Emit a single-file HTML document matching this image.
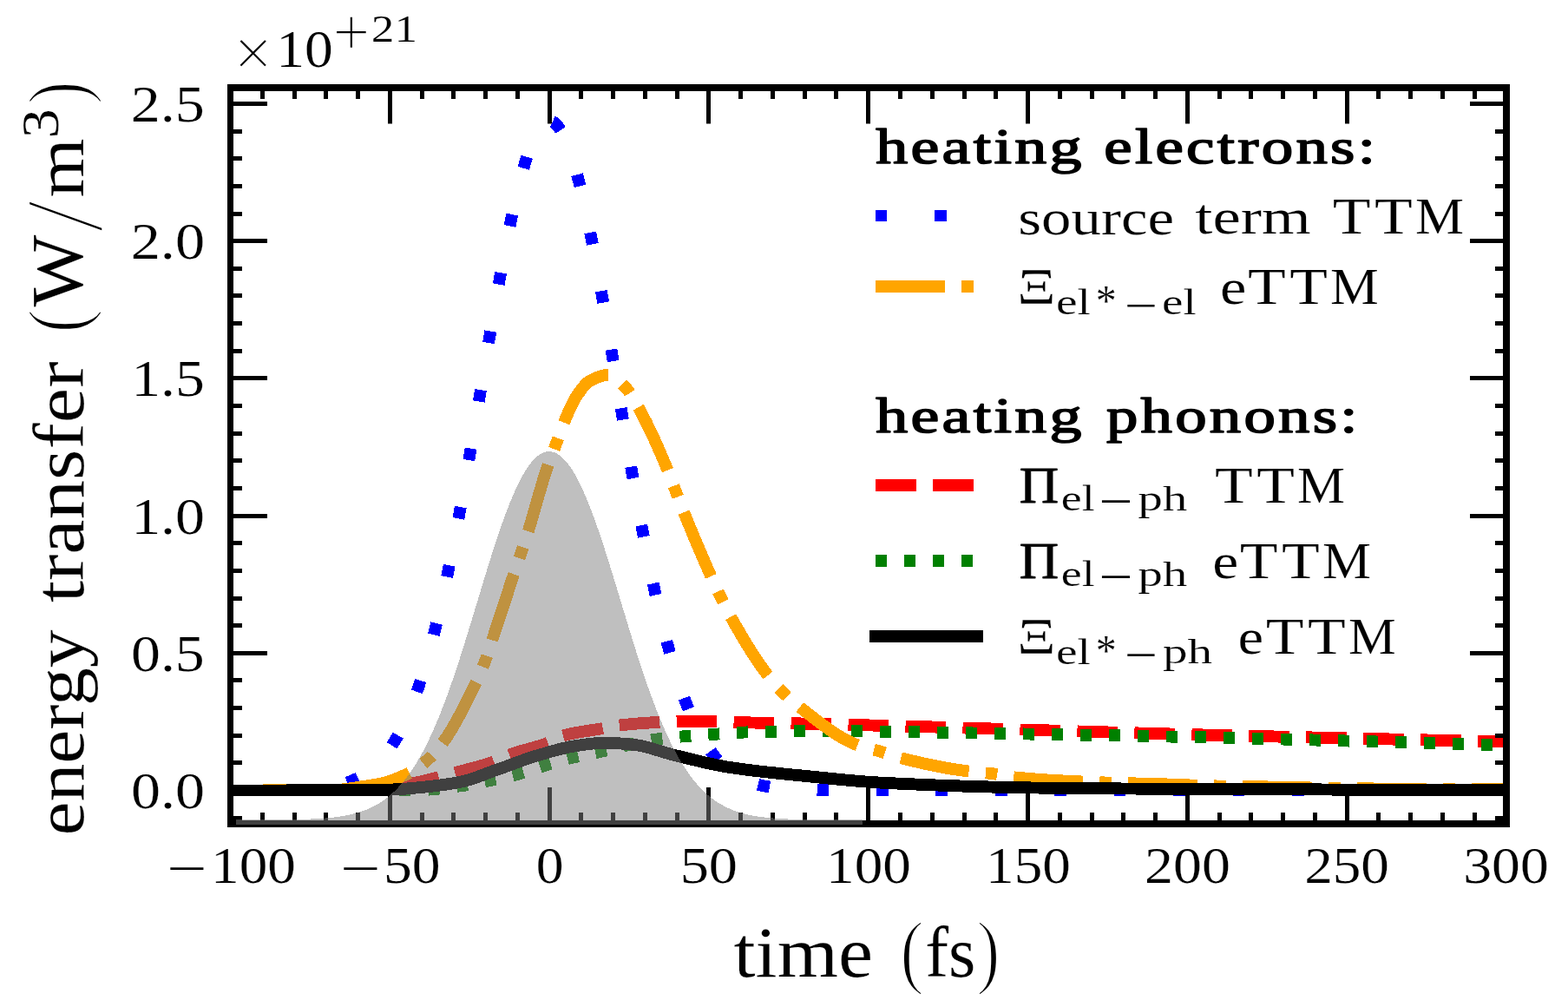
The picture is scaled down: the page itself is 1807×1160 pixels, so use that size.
<!DOCTYPE html>
<html lang="en">
<head>
<meta charset="utf-8">
<title>energy transfer vs time</title>
<style>
html,body{margin:0;padding:0;background:#fff;}
body{width:1807px;height:1160px;overflow:hidden;}
svg{display:block;}
text{font-family:"Liberation Serif","DejaVu Serif",serif;fill:#000;}
.c{fill:none;stroke-width:13.89;stroke-linecap:butt;stroke-linejoin:round;shape-rendering:crispEdges;}
</style>
</head>
<body>
<svg width="1807" height="1160" viewBox="0 0 1807 1160">
<rect width="1807" height="1160" fill="#fff"/>
<defs><clipPath id="ax"><rect x="265.5" y="101" width="1470.5" height="848"/></clipPath><clipPath id="ax2"><rect x="265.5" y="101" width="1470.5" height="849"/></clipPath></defs>
<g clip-path="url(#ax)">
<polyline class="c" stroke="#0000ff" stroke-dasharray="13.6 54.84" stroke-dashoffset="1.6" points="265.50,910.49 267.34,910.49 269.18,910.49 271.02,910.48 272.86,910.48 274.70,910.48 276.54,910.48 278.38,910.47 280.22,910.47 282.06,910.47 283.90,910.47 285.74,910.46 287.59,910.46 289.43,910.45 291.27,910.45 293.11,910.44 294.95,910.44 296.79,910.43 298.63,910.42 300.47,910.41 302.31,910.40 304.15,910.39 305.99,910.38 307.83,910.37 309.67,910.36 311.51,910.34 313.35,910.33 315.19,910.31 317.03,910.29 318.87,910.27 320.71,910.24 322.55,910.22 324.39,910.19 326.23,910.16 328.07,910.13 329.91,910.09 331.76,910.05 333.60,910.01 335.44,909.96 337.28,909.91 339.12,909.86 340.96,909.80 342.80,909.74 344.64,909.67 346.48,909.59 348.32,909.51 350.16,909.42 352.00,909.32 353.84,909.22 355.68,909.11 357.52,908.99 359.36,908.86 361.20,908.71 363.04,908.56 364.88,908.40 366.72,908.22 368.56,908.03 370.40,907.83 372.24,907.61 374.09,907.37 375.93,907.11 377.77,906.84 379.61,906.55 381.45,906.24 383.29,905.90 385.13,905.54 386.97,905.16 388.81,904.75 390.65,904.31 392.49,903.84 394.33,903.34 396.17,902.81 398.01,902.24 399.85,901.63 401.69,900.99 403.53,900.30 405.37,899.57 407.21,898.80 409.05,897.97 410.89,897.10 412.73,896.17 414.57,895.19 416.41,894.15 418.26,893.05 420.10,891.88 421.94,890.65 423.78,889.35 425.62,887.98 427.46,886.53 429.30,885.00 431.14,883.38 432.98,881.69 434.82,879.90 436.66,878.02 438.50,876.04 440.34,873.97 442.18,871.79 444.02,869.50 445.86,867.10 447.70,864.59 449.54,861.96 451.38,859.20 453.22,856.32 455.06,853.31 456.90,850.17 458.74,846.89 460.59,843.47 462.43,839.90 464.27,836.18 466.11,832.32 467.95,828.29 469.79,824.11 471.63,819.77 473.47,815.26 475.31,810.58 477.15,805.73 478.99,800.71 480.83,795.51 482.67,790.13 484.51,784.56 486.35,778.82 488.19,772.89 490.03,766.77 491.87,760.46 493.71,753.96 495.55,747.28 497.39,740.40 499.23,733.33 501.07,726.07 502.91,718.62 504.76,710.98 506.60,703.14 508.44,695.13 510.28,686.92 512.12,678.53 513.96,669.97 515.80,661.22 517.64,652.30 519.48,643.21 521.32,633.95 523.16,624.53 525.00,614.95 526.84,605.23 528.68,595.36 530.52,585.35 532.36,575.21 534.20,564.94 536.04,554.56 537.88,544.07 539.72,533.48 541.56,522.80 543.40,512.04 545.24,501.21 547.09,490.32 548.93,479.37 550.77,468.39 552.61,457.38 554.45,446.36 556.29,435.33 558.13,424.31 559.97,413.31 561.81,402.34 563.65,391.42 565.49,380.56 567.33,369.78 569.17,359.08 571.01,348.48 572.85,338.00 574.69,327.65 576.53,317.44 578.37,307.38 580.21,297.50 582.05,287.80 583.89,278.29 585.73,269.00 587.57,259.94 589.41,251.11 591.26,242.54 593.10,234.23 594.94,226.20 596.78,218.45 598.62,211.01 600.46,203.88 602.30,197.08 604.14,190.61 605.98,184.48 607.82,178.71 609.66,173.31 611.50,168.27 613.34,163.62 615.18,159.36 617.02,155.49 618.86,152.03 620.70,148.97 622.54,146.32 624.38,144.09 626.22,142.29 628.06,140.90 629.90,139.95 631.74,139.42 633.59,139.31 635.43,139.64 637.27,140.40 639.11,141.58 640.95,143.19 642.79,145.22 644.63,147.67 646.47,150.53 648.31,153.80 650.15,157.48 651.99,161.56 653.83,166.03 655.67,170.88 657.51,176.11 659.35,181.71 661.19,187.67 663.03,193.98 664.87,200.62 666.71,207.60 668.55,214.89 670.39,222.50 672.23,230.39 674.07,238.57 675.91,247.03 677.76,255.73 679.60,264.69 681.44,273.87 683.28,283.28 685.12,292.89 686.96,302.68 688.80,312.66 690.64,322.80 692.48,333.09 694.32,343.51 696.16,354.06 698.00,364.71 699.84,375.45 701.68,386.28 703.52,397.17 705.36,408.12 707.20,419.10 709.04,430.12 710.88,441.14 712.72,452.17 714.56,463.19 716.40,474.19 718.24,485.15 720.09,496.07 721.93,506.93 723.77,517.72 725.61,528.44 727.45,539.07 729.29,549.61 731.13,560.05 732.97,570.37 734.81,580.57 736.65,590.64 738.49,600.58 740.33,610.37 742.17,620.02 744.01,629.52 745.85,638.85 747.69,648.02 749.53,657.02 751.37,665.85 753.21,674.51 755.05,682.98 756.89,691.27 758.73,699.38 760.57,707.30 762.41,715.03 764.26,722.57 766.10,729.92 767.94,737.08 769.78,744.05 771.62,750.83 773.46,757.41 775.30,763.81 777.14,770.02 778.98,776.04 780.82,781.87 782.66,787.52 784.50,792.98 786.34,798.27 788.18,803.38 790.02,808.31 791.86,813.07 793.70,817.66 795.54,822.08 797.38,826.34 799.22,830.43 801.06,834.37 802.90,838.16 804.74,841.80 806.59,845.29 808.43,848.63 810.27,851.84 812.11,854.91 813.95,857.86 815.79,860.67 817.63,863.36 819.47,865.93 821.31,868.38 823.15,870.72 824.99,872.95 826.83,875.07 828.67,877.10 830.51,879.02 832.35,880.85 834.19,882.59 836.03,884.24 837.87,885.81 839.71,887.30 841.55,888.71 843.39,890.05 845.23,891.31 847.07,892.51 848.91,893.64 850.76,894.71 852.60,895.72 854.44,896.67 856.28,897.57 858.12,898.41 859.96,899.21 861.80,899.96 863.64,900.67 865.48,901.33 867.32,901.96 869.16,902.54 871.00,903.09 872.84,903.61 874.68,904.09 876.52,904.54 878.36,904.97 880.20,905.36 882.04,905.73 883.88,906.08 885.72,906.40 887.56,906.71 889.40,906.99 891.24,907.25 893.09,907.50 894.93,907.72 896.77,907.94 898.61,908.13 900.45,908.32 902.29,908.49 904.13,908.64 905.97,908.79 907.81,908.93 909.65,909.05 911.49,909.17 913.33,909.28 915.17,909.38 917.01,909.47 918.85,909.55 920.69,909.63 922.53,909.70 924.37,909.77 926.21,909.83 928.05,909.89 929.89,909.94 931.73,909.99 933.57,910.03 935.41,910.07 937.26,910.11 939.10,910.15 940.94,910.18 942.78,910.21 944.62,910.23 946.46,910.26 948.30,910.28 950.14,910.30 951.98,910.32 953.82,910.33 955.66,910.35 957.50,910.36 959.34,910.38 961.18,910.39 963.02,910.40 964.86,910.41 966.70,910.42 968.54,910.42 970.38,910.43 972.22,910.44 974.06,910.44 975.90,910.45 977.74,910.46 979.59,910.46 981.43,910.46 983.27,910.47 985.11,910.47 986.95,910.47 988.79,910.48 990.63,910.48 992.47,910.48 994.31,910.48 996.15,910.48 997.99,910.49 999.83,910.49 1001.67,910.49 1003.51,910.49 1005.35,910.49 1007.19,910.49 1009.03,910.49 1010.87,910.49 1012.71,910.49 1014.55,910.49 1016.39,910.50 1018.23,910.50 1020.07,910.50 1021.91,910.50 1023.76,910.50 1025.60,910.50 1027.44,910.50 1029.28,910.50 1031.12,910.50 1032.96,910.50 1034.80,910.50 1036.64,910.50 1038.48,910.50 1040.32,910.50 1042.16,910.50 1044.00,910.50 1045.84,910.50 1047.68,910.50 1049.52,910.50 1051.36,910.50 1053.20,910.50 1055.04,910.50 1056.88,910.50 1058.72,910.50 1060.56,910.50 1062.40,910.50 1064.24,910.50 1066.09,910.50 1067.93,910.50 1069.77,910.50 1071.61,910.50 1073.45,910.50 1075.29,910.50 1077.13,910.50 1078.97,910.50 1080.81,910.50 1082.65,910.50 1084.49,910.50 1086.33,910.50 1088.17,910.50 1090.01,910.50 1091.85,910.50 1093.69,910.50 1095.53,910.50 1097.37,910.50 1099.21,910.50 1101.05,910.50 1102.89,910.50 1104.73,910.50 1106.57,910.50 1108.41,910.50 1110.26,910.50 1112.10,910.50 1113.94,910.50 1115.78,910.50 1117.62,910.50 1119.46,910.50 1121.30,910.50 1123.14,910.50 1124.98,910.50 1126.82,910.50 1128.66,910.50 1130.50,910.50 1132.34,910.50 1134.18,910.50 1136.02,910.50 1137.86,910.50 1139.70,910.50 1141.54,910.50 1143.38,910.50 1145.22,910.50 1147.06,910.50 1148.90,910.50 1150.74,910.50 1152.59,910.50 1154.43,910.50 1156.27,910.50 1158.11,910.50 1159.95,910.50 1161.79,910.50 1163.63,910.50 1165.47,910.50 1167.31,910.50 1169.15,910.50 1170.99,910.50 1172.83,910.50 1174.67,910.50 1176.51,910.50 1178.35,910.50 1180.19,910.50 1182.03,910.50 1183.87,910.50 1185.71,910.50 1187.55,910.50 1189.39,910.50 1191.23,910.50 1193.07,910.50 1194.91,910.50 1196.76,910.50 1198.60,910.50 1200.44,910.50 1202.28,910.50 1204.12,910.50 1205.96,910.50 1207.80,910.50 1209.64,910.50 1211.48,910.50 1213.32,910.50 1215.16,910.50 1217.00,910.50 1218.84,910.50 1220.68,910.50 1222.52,910.50 1224.36,910.50 1226.20,910.50 1228.04,910.50 1229.88,910.50 1231.72,910.50 1233.56,910.50 1235.40,910.50 1237.24,910.50 1239.09,910.50 1240.93,910.50 1242.77,910.50 1244.61,910.50 1246.45,910.50 1248.29,910.50 1250.13,910.50 1251.97,910.50 1253.81,910.50 1255.65,910.50 1257.49,910.50 1259.33,910.50 1261.17,910.50 1263.01,910.50 1264.85,910.50 1266.69,910.50 1268.53,910.50 1270.37,910.50 1272.21,910.50 1274.05,910.50 1275.89,910.50 1277.73,910.50 1279.57,910.50 1281.41,910.50 1283.26,910.50 1285.10,910.50 1286.94,910.50 1288.78,910.50 1290.62,910.50 1292.46,910.50 1294.30,910.50 1296.14,910.50 1297.98,910.50 1299.82,910.50 1301.66,910.50 1303.50,910.50 1305.34,910.50 1307.18,910.50 1309.02,910.50 1310.86,910.50 1312.70,910.50 1314.54,910.50 1316.38,910.50 1318.22,910.50 1320.06,910.50 1321.90,910.50 1323.74,910.50 1325.59,910.50 1327.43,910.50 1329.27,910.50 1331.11,910.50 1332.95,910.50 1334.79,910.50 1336.63,910.50 1338.47,910.50 1340.31,910.50 1342.15,910.50 1343.99,910.50 1345.83,910.50 1347.67,910.50 1349.51,910.50 1351.35,910.50 1353.19,910.50 1355.03,910.50 1356.87,910.50 1358.71,910.50 1360.55,910.50 1362.39,910.50 1364.23,910.50 1366.07,910.50 1367.91,910.50 1369.76,910.50 1371.60,910.50 1373.44,910.50 1375.28,910.50 1377.12,910.50 1378.96,910.50 1380.80,910.50 1382.64,910.50 1384.48,910.50 1386.32,910.50 1388.16,910.50 1390.00,910.50 1391.84,910.50 1393.68,910.50 1395.52,910.50 1397.36,910.50 1399.20,910.50 1401.04,910.50 1402.88,910.50 1404.72,910.50 1406.56,910.50 1408.40,910.50 1410.24,910.50 1412.09,910.50 1413.93,910.50 1415.77,910.50 1417.61,910.50 1419.45,910.50 1421.29,910.50 1423.13,910.50 1424.97,910.50 1426.81,910.50 1428.65,910.50 1430.49,910.50 1432.33,910.50 1434.17,910.50 1436.01,910.50 1437.85,910.50 1439.69,910.50 1441.53,910.50 1443.37,910.50 1445.21,910.50 1447.05,910.50 1448.89,910.50 1450.73,910.50 1452.57,910.50 1454.41,910.50 1456.26,910.50 1458.10,910.50 1459.94,910.50 1461.78,910.50 1463.62,910.50 1465.46,910.50 1467.30,910.50 1469.14,910.50 1470.98,910.50 1472.82,910.50 1474.66,910.50 1476.50,910.50 1478.34,910.50 1480.18,910.50 1482.02,910.50 1483.86,910.50 1485.70,910.50 1487.54,910.50 1489.38,910.50 1491.22,910.50 1493.06,910.50 1494.90,910.50 1496.74,910.50 1498.59,910.50 1500.43,910.50 1502.27,910.50 1504.11,910.50 1505.95,910.50 1507.79,910.50 1509.63,910.50 1511.47,910.50 1513.31,910.50 1515.15,910.50 1516.99,910.50 1518.83,910.50 1520.67,910.50 1522.51,910.50 1524.35,910.50 1526.19,910.50 1528.03,910.50 1529.87,910.50 1531.71,910.50 1533.55,910.50 1535.39,910.50 1537.23,910.50 1539.07,910.50 1540.91,910.50 1542.76,910.50 1544.60,910.50 1546.44,910.50 1548.28,910.50 1550.12,910.50 1551.96,910.50 1553.80,910.50 1555.64,910.50 1557.48,910.50 1559.32,910.50 1561.16,910.50 1563.00,910.50 1564.84,910.50 1566.68,910.50 1568.52,910.50 1570.36,910.50 1572.20,910.50 1574.04,910.50 1575.88,910.50 1577.72,910.50 1579.56,910.50 1581.40,910.50 1583.24,910.50 1585.09,910.50 1586.93,910.50 1588.77,910.50 1590.61,910.50 1592.45,910.50 1594.29,910.50 1596.13,910.50 1597.97,910.50 1599.81,910.50 1601.65,910.50 1603.49,910.50 1605.33,910.50 1607.17,910.50 1609.01,910.50 1610.85,910.50 1612.69,910.50 1614.53,910.50 1616.37,910.50 1618.21,910.50 1620.05,910.50 1621.89,910.50 1623.73,910.50 1625.57,910.50 1627.41,910.50 1629.26,910.50 1631.10,910.50 1632.94,910.50 1634.78,910.50 1636.62,910.50 1638.46,910.50 1640.30,910.50 1642.14,910.50 1643.98,910.50 1645.82,910.50 1647.66,910.50 1649.50,910.50 1651.34,910.50 1653.18,910.50 1655.02,910.50 1656.86,910.50 1658.70,910.50 1660.54,910.50 1662.38,910.50 1664.22,910.50 1666.06,910.50 1667.90,910.50 1669.74,910.50 1671.59,910.50 1673.43,910.50 1675.27,910.50 1677.11,910.50 1678.95,910.50 1680.79,910.50 1682.63,910.50 1684.47,910.50 1686.31,910.50 1688.15,910.50 1689.99,910.50 1691.83,910.50 1693.67,910.50 1695.51,910.50 1697.35,910.50 1699.19,910.50 1701.03,910.50 1702.87,910.50 1704.71,910.50 1706.55,910.50 1708.39,910.50 1710.23,910.50 1712.07,910.50 1713.91,910.50 1715.76,910.50 1717.60,910.50 1719.44,910.50 1721.28,910.50 1723.12,910.50 1724.96,910.50 1726.80,910.50 1728.64,910.50 1730.48,910.50 1732.32,910.50 1734.16,910.50 1736.00,910.50"/>
<polyline class="c" stroke="#ff0000" stroke-dasharray="46.6 19.4" stroke-dashoffset="3" points="265.50,910.50 267.34,910.50 269.18,910.50 271.02,910.50 272.86,910.50 274.70,910.50 276.54,910.50 278.38,910.50 280.22,910.50 282.06,910.50 283.90,910.50 285.74,910.50 287.59,910.50 289.43,910.50 291.27,910.50 293.11,910.50 294.95,910.50 296.79,910.50 298.63,910.50 300.47,910.50 302.31,910.49 304.15,910.49 305.99,910.49 307.83,910.49 309.67,910.49 311.51,910.49 313.35,910.49 315.19,910.49 317.03,910.49 318.87,910.49 320.71,910.49 322.55,910.49 324.39,910.49 326.23,910.48 328.07,910.48 329.91,910.48 331.76,910.48 333.60,910.48 335.44,910.48 337.28,910.48 339.12,910.48 340.96,910.47 342.80,910.47 344.64,910.47 346.48,910.47 348.32,910.47 350.16,910.47 352.00,910.47 353.84,910.46 355.68,910.46 357.52,910.46 359.36,910.46 361.20,910.46 363.04,910.45 364.88,910.45 366.72,910.45 368.56,910.45 370.40,910.45 372.24,910.44 374.09,910.44 375.93,910.44 377.77,910.44 379.61,910.43 381.45,910.43 383.29,910.43 385.13,910.42 386.97,910.42 388.81,910.42 390.65,910.42 392.49,910.41 394.33,910.41 396.17,910.41 398.01,910.40 399.85,910.40 401.69,910.39 403.53,910.38 405.37,910.36 407.21,910.33 409.05,910.30 410.89,910.26 412.73,910.21 414.57,910.16 416.41,910.10 418.26,910.03 420.10,909.96 421.94,909.89 423.78,909.81 425.62,909.72 427.46,909.63 429.30,909.54 431.14,909.43 432.98,909.26 434.82,909.04 436.66,908.77 438.50,908.47 440.34,908.16 442.18,907.83 444.02,907.50 445.86,907.19 447.70,906.89 449.54,906.60 451.38,906.30 453.22,906.01 455.06,905.71 456.90,905.41 458.74,905.11 460.59,904.81 462.43,904.50 464.27,904.19 466.11,903.87 467.95,903.55 469.79,903.23 471.63,902.90 473.47,902.56 475.31,902.22 477.15,901.87 478.99,901.52 480.83,901.15 482.67,900.78 484.51,900.40 486.35,900.01 488.19,899.61 490.03,899.19 491.87,898.76 493.71,898.32 495.55,897.87 497.39,897.40 499.23,896.93 501.07,896.45 502.91,895.97 504.76,895.48 506.60,894.98 508.44,894.48 510.28,893.97 512.12,893.47 513.96,892.96 515.80,892.45 517.64,891.94 519.48,891.43 521.32,890.93 523.16,890.43 525.00,889.93 526.84,889.45 528.68,888.96 530.52,888.48 532.36,888.01 534.20,887.53 536.04,887.06 537.88,886.58 539.72,886.10 541.56,885.62 543.40,885.14 545.24,884.65 547.09,884.15 548.93,883.65 550.77,883.14 552.61,882.62 554.45,882.09 556.29,881.54 558.13,880.98 559.97,880.41 561.81,879.83 563.65,879.22 565.49,878.60 567.33,877.96 569.17,877.30 571.01,876.61 572.85,875.82 574.69,874.95 576.53,874.04 578.37,873.11 580.21,872.20 582.05,871.33 583.89,870.54 585.73,869.83 587.57,869.16 589.41,868.52 591.26,867.91 593.10,867.32 594.94,866.75 596.78,866.20 598.62,865.67 600.46,865.15 602.30,864.63 604.14,864.13 605.98,863.63 607.82,863.14 609.66,862.64 611.50,862.14 613.34,861.63 615.18,861.12 617.02,860.59 618.86,860.05 620.70,859.49 622.54,858.92 624.38,858.32 626.22,857.69 628.06,857.04 629.90,856.36 631.74,855.64 633.59,854.82 635.43,853.87 637.27,852.85 639.11,851.79 640.95,850.75 642.79,849.77 644.63,848.89 646.47,848.17 648.31,847.61 650.15,847.10 651.99,846.61 653.83,846.16 655.67,845.72 657.51,845.31 659.35,844.92 661.19,844.55 663.03,844.19 664.87,843.85 666.71,843.53 668.55,843.21 670.39,842.91 672.23,842.61 674.07,842.32 675.91,842.04 677.76,841.76 679.60,841.48 681.44,841.20 683.28,840.92 685.12,840.64 686.96,840.35 688.80,840.06 690.64,839.76 692.48,839.44 694.32,839.12 696.16,838.78 698.00,838.42 699.84,838.05 701.68,837.67 703.52,837.29 705.36,836.92 707.20,836.57 709.04,836.24 710.88,835.94 712.72,835.68 714.56,835.46 716.40,835.25 718.24,835.05 720.09,834.85 721.93,834.66 723.77,834.48 725.61,834.30 727.45,834.13 729.29,833.97 731.13,833.81 732.97,833.66 734.81,833.51 736.65,833.37 738.49,833.23 740.33,833.09 742.17,832.96 744.01,832.83 745.85,832.71 747.69,832.58 749.53,832.46 751.37,832.34 753.21,832.22 755.05,832.11 756.89,831.99 758.73,831.88 760.57,831.76 762.41,831.65 764.26,831.52 766.10,831.40 767.94,831.28 769.78,831.17 771.62,831.07 773.46,830.98 775.30,830.90 777.14,830.84 778.98,830.80 780.82,830.77 782.66,830.75 784.50,830.72 786.34,830.70 788.18,830.68 790.02,830.66 791.86,830.65 793.70,830.63 795.54,830.62 797.38,830.61 799.22,830.60 801.06,830.60 802.90,830.60 804.74,830.61 806.59,830.62 808.43,830.64 810.27,830.66 812.11,830.69 813.95,830.72 815.79,830.76 817.63,830.80 819.47,830.84 821.31,830.88 823.15,830.93 824.99,830.97 826.83,831.02 828.67,831.08 830.51,831.16 832.35,831.24 834.19,831.33 836.03,831.43 837.87,831.53 839.71,831.63 841.55,831.73 843.39,831.83 845.23,831.92 847.07,832.00 848.91,832.07 850.76,832.12 852.60,832.17 854.44,832.22 856.28,832.27 858.12,832.31 859.96,832.35 861.80,832.39 863.64,832.43 865.48,832.47 867.32,832.51 869.16,832.54 871.00,832.58 872.84,832.61 874.68,832.64 876.52,832.68 878.36,832.71 880.20,832.74 882.04,832.77 883.88,832.80 885.72,832.82 887.56,832.85 889.40,832.88 891.24,832.91 893.09,832.94 894.93,832.96 896.77,832.99 898.61,833.02 900.45,833.05 902.29,833.08 904.13,833.11 905.97,833.14 907.81,833.17 909.65,833.20 911.49,833.23 913.33,833.27 915.17,833.30 917.01,833.34 918.85,833.38 920.69,833.41 922.53,833.45 924.37,833.49 926.21,833.53 928.05,833.58 929.89,833.62 931.73,833.66 933.57,833.70 935.41,833.74 937.26,833.79 939.10,833.83 940.94,833.88 942.78,833.92 944.62,833.96 946.46,834.01 948.30,834.05 950.14,834.10 951.98,834.15 953.82,834.19 955.66,834.24 957.50,834.29 959.34,834.33 961.18,834.38 963.02,834.43 964.86,834.47 966.70,834.52 968.54,834.57 970.38,834.62 972.22,834.67 974.06,834.71 975.90,834.76 977.74,834.81 979.59,834.86 981.43,834.91 983.27,834.96 985.11,835.01 986.95,835.05 988.79,835.10 990.63,835.15 992.47,835.20 994.31,835.25 996.15,835.30 997.99,835.35 999.83,835.40 1001.67,835.44 1003.51,835.49 1005.35,835.54 1007.19,835.59 1009.03,835.64 1010.87,835.69 1012.71,835.74 1014.55,835.79 1016.39,835.84 1018.23,835.89 1020.07,835.94 1021.91,835.99 1023.76,836.04 1025.60,836.09 1027.44,836.14 1029.28,836.19 1031.12,836.24 1032.96,836.29 1034.80,836.34 1036.64,836.39 1038.48,836.44 1040.32,836.49 1042.16,836.54 1044.00,836.59 1045.84,836.65 1047.68,836.70 1049.52,836.75 1051.36,836.80 1053.20,836.85 1055.04,836.90 1056.88,836.96 1058.72,837.01 1060.56,837.06 1062.40,837.11 1064.24,837.17 1066.09,837.22 1067.93,837.27 1069.77,837.32 1071.61,837.38 1073.45,837.43 1075.29,837.48 1077.13,837.53 1078.97,837.59 1080.81,837.64 1082.65,837.69 1084.49,837.75 1086.33,837.80 1088.17,837.85 1090.01,837.91 1091.85,837.96 1093.69,838.01 1095.53,838.07 1097.37,838.12 1099.21,838.18 1101.05,838.23 1102.89,838.28 1104.73,838.34 1106.57,838.39 1108.41,838.45 1110.26,838.50 1112.10,838.55 1113.94,838.61 1115.78,838.66 1117.62,838.72 1119.46,838.77 1121.30,838.83 1123.14,838.88 1124.98,838.93 1126.82,838.99 1128.66,839.04 1130.50,839.10 1132.34,839.15 1134.18,839.21 1136.02,839.26 1137.86,839.32 1139.70,839.37 1141.54,839.43 1143.38,839.48 1145.22,839.54 1147.06,839.59 1148.90,839.65 1150.74,839.70 1152.59,839.76 1154.43,839.81 1156.27,839.87 1158.11,839.92 1159.95,839.98 1161.79,840.03 1163.63,840.09 1165.47,840.14 1167.31,840.20 1169.15,840.25 1170.99,840.31 1172.83,840.37 1174.67,840.42 1176.51,840.48 1178.35,840.53 1180.19,840.59 1182.03,840.64 1183.87,840.70 1185.71,840.75 1187.55,840.81 1189.39,840.86 1191.23,840.92 1193.07,840.97 1194.91,841.03 1196.76,841.08 1198.60,841.14 1200.44,841.19 1202.28,841.25 1204.12,841.30 1205.96,841.36 1207.80,841.41 1209.64,841.47 1211.48,841.52 1213.32,841.58 1215.16,841.64 1217.00,841.69 1218.84,841.75 1220.68,841.80 1222.52,841.86 1224.36,841.91 1226.20,841.96 1228.04,842.02 1229.88,842.07 1231.72,842.13 1233.56,842.18 1235.40,842.24 1237.24,842.29 1239.09,842.35 1240.93,842.40 1242.77,842.46 1244.61,842.51 1246.45,842.57 1248.29,842.62 1250.13,842.67 1251.97,842.73 1253.81,842.78 1255.65,842.84 1257.49,842.89 1259.33,842.95 1261.17,843.00 1263.01,843.05 1264.85,843.11 1266.69,843.16 1268.53,843.22 1270.37,843.27 1272.21,843.32 1274.05,843.38 1275.89,843.43 1277.73,843.48 1279.57,843.54 1281.41,843.59 1283.26,843.64 1285.10,843.70 1286.94,843.75 1288.78,843.80 1290.62,843.86 1292.46,843.91 1294.30,843.96 1296.14,844.01 1297.98,844.07 1299.82,844.12 1301.66,844.17 1303.50,844.22 1305.34,844.28 1307.18,844.33 1309.02,844.38 1310.86,844.43 1312.70,844.48 1314.54,844.54 1316.38,844.59 1318.22,844.64 1320.06,844.69 1321.90,844.74 1323.74,844.79 1325.59,844.84 1327.43,844.89 1329.27,844.95 1331.11,845.00 1332.95,845.05 1334.79,845.10 1336.63,845.15 1338.47,845.20 1340.31,845.25 1342.15,845.30 1343.99,845.35 1345.83,845.40 1347.67,845.45 1349.51,845.50 1351.35,845.55 1353.19,845.60 1355.03,845.65 1356.87,845.69 1358.71,845.74 1360.55,845.79 1362.39,845.84 1364.23,845.89 1366.07,845.94 1367.91,845.99 1369.76,846.03 1371.60,846.08 1373.44,846.13 1375.28,846.18 1377.12,846.23 1378.96,846.27 1380.80,846.32 1382.64,846.37 1384.48,846.41 1386.32,846.46 1388.16,846.51 1390.00,846.56 1391.84,846.60 1393.68,846.65 1395.52,846.69 1397.36,846.74 1399.20,846.79 1401.04,846.83 1402.88,846.88 1404.72,846.93 1406.56,846.97 1408.40,847.02 1410.24,847.06 1412.09,847.11 1413.93,847.15 1415.77,847.20 1417.61,847.24 1419.45,847.29 1421.29,847.33 1423.13,847.38 1424.97,847.42 1426.81,847.47 1428.65,847.51 1430.49,847.56 1432.33,847.60 1434.17,847.65 1436.01,847.69 1437.85,847.74 1439.69,847.78 1441.53,847.82 1443.37,847.87 1445.21,847.91 1447.05,847.96 1448.89,848.00 1450.73,848.04 1452.57,848.09 1454.41,848.13 1456.26,848.17 1458.10,848.22 1459.94,848.26 1461.78,848.30 1463.62,848.35 1465.46,848.39 1467.30,848.43 1469.14,848.48 1470.98,848.52 1472.82,848.56 1474.66,848.61 1476.50,848.65 1478.34,848.69 1480.18,848.73 1482.02,848.78 1483.86,848.82 1485.70,848.86 1487.54,848.90 1489.38,848.95 1491.22,848.99 1493.06,849.03 1494.90,849.07 1496.74,849.12 1498.59,849.16 1500.43,849.20 1502.27,849.24 1504.11,849.28 1505.95,849.33 1507.79,849.37 1509.63,849.41 1511.47,849.45 1513.31,849.49 1515.15,849.54 1516.99,849.58 1518.83,849.62 1520.67,849.66 1522.51,849.70 1524.35,849.74 1526.19,849.79 1528.03,849.83 1529.87,849.87 1531.71,849.91 1533.55,849.95 1535.39,849.99 1537.23,850.03 1539.07,850.08 1540.91,850.12 1542.76,850.16 1544.60,850.20 1546.44,850.24 1548.28,850.28 1550.12,850.32 1551.96,850.37 1553.80,850.41 1555.64,850.45 1557.48,850.49 1559.32,850.53 1561.16,850.57 1563.00,850.61 1564.84,850.65 1566.68,850.70 1568.52,850.74 1570.36,850.78 1572.20,850.82 1574.04,850.86 1575.88,850.90 1577.72,850.94 1579.56,850.98 1581.40,851.03 1583.24,851.07 1585.09,851.11 1586.93,851.15 1588.77,851.19 1590.61,851.23 1592.45,851.27 1594.29,851.31 1596.13,851.35 1597.97,851.40 1599.81,851.44 1601.65,851.48 1603.49,851.52 1605.33,851.56 1607.17,851.60 1609.01,851.64 1610.85,851.69 1612.69,851.73 1614.53,851.77 1616.37,851.81 1618.21,851.85 1620.05,851.89 1621.89,851.93 1623.73,851.98 1625.57,852.02 1627.41,852.06 1629.26,852.10 1631.10,852.14 1632.94,852.18 1634.78,852.23 1636.62,852.27 1638.46,852.31 1640.30,852.35 1642.14,852.39 1643.98,852.43 1645.82,852.48 1647.66,852.52 1649.50,852.56 1651.34,852.60 1653.18,852.64 1655.02,852.69 1656.86,852.73 1658.70,852.77 1660.54,852.81 1662.38,852.86 1664.22,852.90 1666.06,852.94 1667.90,852.98 1669.74,853.02 1671.59,853.07 1673.43,853.11 1675.27,853.15 1677.11,853.20 1678.95,853.24 1680.79,853.28 1682.63,853.32 1684.47,853.37 1686.31,853.41 1688.15,853.45 1689.99,853.50 1691.83,853.54 1693.67,853.58 1695.51,853.63 1697.35,853.67 1699.19,853.71 1701.03,853.76 1702.87,853.80 1704.71,853.84 1706.55,853.89 1708.39,853.93 1710.23,853.97 1712.07,854.02 1713.91,854.06 1715.76,854.11 1717.60,854.15 1719.44,854.20 1721.28,854.24 1723.12,854.28 1724.96,854.33 1726.80,854.37 1728.64,854.42 1730.48,854.46 1732.32,854.51 1734.16,854.55 1736.00,854.60"/>
<polyline class="c" stroke="#008000" stroke-dasharray="12.9 20.1" stroke-dashoffset="3.2" points="265.50,910.50 267.34,910.50 269.18,910.50 271.02,910.50 272.86,910.50 274.70,910.50 276.54,910.50 278.38,910.50 280.22,910.50 282.06,910.50 283.90,910.50 285.74,910.50 287.59,910.50 289.43,910.50 291.27,910.50 293.11,910.50 294.95,910.50 296.79,910.50 298.63,910.50 300.47,910.50 302.31,910.49 304.15,910.49 305.99,910.49 307.83,910.49 309.67,910.49 311.51,910.49 313.35,910.49 315.19,910.49 317.03,910.49 318.87,910.49 320.71,910.49 322.55,910.49 324.39,910.48 326.23,910.48 328.07,910.48 329.91,910.48 331.76,910.48 333.60,910.48 335.44,910.48 337.28,910.48 339.12,910.48 340.96,910.47 342.80,910.47 344.64,910.47 346.48,910.47 348.32,910.47 350.16,910.47 352.00,910.46 353.84,910.46 355.68,910.46 357.52,910.46 359.36,910.46 361.20,910.46 363.04,910.45 364.88,910.45 366.72,910.45 368.56,910.45 370.40,910.44 372.24,910.44 374.09,910.44 375.93,910.44 377.77,910.44 379.61,910.43 381.45,910.43 383.29,910.43 385.13,910.43 386.97,910.42 388.81,910.42 390.65,910.42 392.49,910.41 394.33,910.41 396.17,910.41 398.01,910.41 399.85,910.40 401.69,910.40 403.53,910.40 405.37,910.39 407.21,910.39 409.05,910.39 410.89,910.38 412.73,910.38 414.57,910.38 416.41,910.37 418.26,910.37 420.10,910.36 421.94,910.36 423.78,910.36 425.62,910.35 427.46,910.35 429.30,910.34 431.14,910.34 432.98,910.34 434.82,910.33 436.66,910.33 438.50,910.32 440.34,910.32 442.18,910.31 444.02,910.31 445.86,910.30 447.70,910.30 449.54,910.29 451.38,910.29 453.22,910.28 455.06,910.28 456.90,910.27 458.74,910.27 460.59,910.26 462.43,910.26 464.27,910.25 466.11,910.25 467.95,910.24 469.79,910.23 471.63,910.23 473.47,910.22 475.31,910.22 477.15,910.21 478.99,910.20 480.83,910.20 482.67,910.17 484.51,910.13 486.35,910.07 488.19,909.99 490.03,909.89 491.87,909.78 493.71,909.66 495.55,909.52 497.39,909.37 499.23,909.21 501.07,909.03 502.91,908.84 504.76,908.65 506.60,908.44 508.44,908.23 510.28,908.01 512.12,907.79 513.96,907.55 515.80,907.32 517.64,907.07 519.48,906.83 521.32,906.58 523.16,906.33 525.00,906.08 526.84,905.83 528.68,905.58 530.52,905.33 532.36,905.08 534.20,904.84 536.04,904.57 537.88,904.29 539.72,903.99 541.56,903.67 543.40,903.34 545.24,903.00 547.09,902.65 548.93,902.29 550.77,901.92 552.61,901.54 554.45,901.16 556.29,900.78 558.13,900.39 559.97,900.01 561.81,899.62 563.65,899.24 565.49,898.86 567.33,898.48 569.17,898.10 571.01,897.72 572.85,897.33 574.69,896.94 576.53,896.55 578.37,896.16 580.21,895.75 582.05,895.35 583.89,894.93 585.73,894.51 587.57,894.08 589.41,893.64 591.26,893.20 593.10,892.74 594.94,892.27 596.78,891.79 598.62,891.30 600.46,890.78 602.30,890.24 604.14,889.67 605.98,889.09 607.82,888.49 609.66,887.88 611.50,887.27 613.34,886.64 615.18,886.01 617.02,885.38 618.86,884.76 620.70,884.13 622.54,883.52 624.38,882.92 626.22,882.33 628.06,881.75 629.90,881.20 631.74,880.64 633.59,880.09 635.43,879.53 637.27,878.98 639.11,878.43 640.95,877.89 642.79,877.35 644.63,876.81 646.47,876.28 648.31,875.76 650.15,875.25 651.99,874.74 653.83,874.25 655.67,873.76 657.51,873.29 659.35,872.83 661.19,872.38 663.03,871.95 664.87,871.53 666.71,871.12 668.55,870.73 670.39,870.34 672.23,869.97 674.07,869.59 675.91,869.22 677.76,868.86 679.60,868.49 681.44,868.12 683.28,867.75 685.12,867.38 686.96,867.00 688.80,866.61 690.64,866.21 692.48,865.80 694.32,865.38 696.16,864.95 698.00,864.51 699.84,864.06 701.68,863.61 703.52,863.15 705.36,862.68 707.20,862.22 709.04,861.75 710.88,861.29 712.72,860.82 714.56,860.36 716.40,859.91 718.24,859.47 720.09,859.03 721.93,858.60 723.77,858.18 725.61,857.78 727.45,857.37 729.29,856.96 731.13,856.55 732.97,856.13 734.81,855.72 736.65,855.32 738.49,854.92 740.33,854.52 742.17,854.14 744.01,853.76 745.85,853.39 747.69,853.04 749.53,852.70 751.37,852.38 753.21,852.08 755.05,851.79 756.89,851.53 758.73,851.28 760.57,851.04 762.41,850.81 764.26,850.59 766.10,850.38 767.94,850.17 769.78,849.97 771.62,849.78 773.46,849.59 775.30,849.41 777.14,849.23 778.98,849.06 780.82,848.89 782.66,848.73 784.50,848.57 786.34,848.41 788.18,848.25 790.02,848.10 791.86,847.95 793.70,847.80 795.54,847.66 797.38,847.52 799.22,847.39 801.06,847.26 802.90,847.13 804.74,847.01 806.59,846.88 808.43,846.76 810.27,846.64 812.11,846.52 813.95,846.40 815.79,846.28 817.63,846.16 819.47,846.04 821.31,845.91 823.15,845.79 824.99,845.66 826.83,845.53 828.67,845.39 830.51,845.25 832.35,845.11 834.19,844.97 836.03,844.83 837.87,844.69 839.71,844.55 841.55,844.42 843.39,844.29 845.23,844.16 847.07,844.04 848.91,843.93 850.76,843.83 852.60,843.74 854.44,843.65 856.28,843.58 858.12,843.51 859.96,843.44 861.80,843.38 863.64,843.32 865.48,843.27 867.32,843.21 869.16,843.16 871.00,843.11 872.84,843.07 874.68,843.02 876.52,842.98 878.36,842.93 880.20,842.89 882.04,842.85 883.88,842.81 885.72,842.77 887.56,842.73 889.40,842.69 891.24,842.65 893.09,842.61 894.93,842.56 896.77,842.52 898.61,842.47 900.45,842.43 902.29,842.39 904.13,842.34 905.97,842.30 907.81,842.26 909.65,842.23 911.49,842.20 913.33,842.17 915.17,842.14 917.01,842.12 918.85,842.11 920.69,842.10 922.53,842.10 924.37,842.10 926.21,842.10 928.05,842.10 929.89,842.10 931.73,842.10 933.57,842.10 935.41,842.10 937.26,842.10 939.10,842.10 940.94,842.10 942.78,842.10 944.62,842.10 946.46,842.10 948.30,842.10 950.14,842.10 951.98,842.10 953.82,842.10 955.66,842.10 957.50,842.10 959.34,842.10 961.18,842.10 963.02,842.10 964.86,842.10 966.70,842.10 968.54,842.10 970.38,842.10 972.22,842.10 974.06,842.10 975.90,842.10 977.74,842.10 979.59,842.10 981.43,842.10 983.27,842.10 985.11,842.10 986.95,842.10 988.79,842.10 990.63,842.11 992.47,842.12 994.31,842.14 996.15,842.17 997.99,842.20 999.83,842.23 1001.67,842.27 1003.51,842.31 1005.35,842.35 1007.19,842.39 1009.03,842.44 1010.87,842.48 1012.71,842.52 1014.55,842.57 1016.39,842.61 1018.23,842.65 1020.07,842.68 1021.91,842.72 1023.76,842.75 1025.60,842.78 1027.44,842.82 1029.28,842.85 1031.12,842.88 1032.96,842.91 1034.80,842.95 1036.64,842.98 1038.48,843.01 1040.32,843.05 1042.16,843.08 1044.00,843.11 1045.84,843.14 1047.68,843.18 1049.52,843.21 1051.36,843.24 1053.20,843.27 1055.04,843.30 1056.88,843.34 1058.72,843.37 1060.56,843.40 1062.40,843.43 1064.24,843.47 1066.09,843.50 1067.93,843.53 1069.77,843.56 1071.61,843.59 1073.45,843.63 1075.29,843.66 1077.13,843.69 1078.97,843.72 1080.81,843.75 1082.65,843.78 1084.49,843.82 1086.33,843.85 1088.17,843.88 1090.01,843.91 1091.85,843.94 1093.69,843.97 1095.53,844.01 1097.37,844.04 1099.21,844.07 1101.05,844.10 1102.89,844.13 1104.73,844.16 1106.57,844.20 1108.41,844.23 1110.26,844.26 1112.10,844.29 1113.94,844.32 1115.78,844.35 1117.62,844.38 1119.46,844.42 1121.30,844.45 1123.14,844.48 1124.98,844.51 1126.82,844.54 1128.66,844.57 1130.50,844.60 1132.34,844.64 1134.18,844.67 1136.02,844.70 1137.86,844.73 1139.70,844.76 1141.54,844.79 1143.38,844.82 1145.22,844.86 1147.06,844.89 1148.90,844.92 1150.74,844.95 1152.59,844.98 1154.43,845.01 1156.27,845.04 1158.11,845.08 1159.95,845.11 1161.79,845.14 1163.63,845.17 1165.47,845.20 1167.31,845.23 1169.15,845.26 1170.99,845.30 1172.83,845.33 1174.67,845.36 1176.51,845.39 1178.35,845.42 1180.19,845.45 1182.03,845.49 1183.87,845.52 1185.71,845.55 1187.55,845.58 1189.39,845.61 1191.23,845.64 1193.07,845.68 1194.91,845.71 1196.76,845.74 1198.60,845.77 1200.44,845.80 1202.28,845.84 1204.12,845.87 1205.96,845.90 1207.80,845.93 1209.64,845.96 1211.48,846.00 1213.32,846.03 1215.16,846.06 1217.00,846.09 1218.84,846.12 1220.68,846.16 1222.52,846.19 1224.36,846.22 1226.20,846.25 1228.04,846.29 1229.88,846.32 1231.72,846.35 1233.56,846.39 1235.40,846.42 1237.24,846.45 1239.09,846.48 1240.93,846.52 1242.77,846.55 1244.61,846.58 1246.45,846.62 1248.29,846.65 1250.13,846.68 1251.97,846.71 1253.81,846.75 1255.65,846.78 1257.49,846.81 1259.33,846.85 1261.17,846.88 1263.01,846.92 1264.85,846.95 1266.69,846.98 1268.53,847.02 1270.37,847.05 1272.21,847.08 1274.05,847.12 1275.89,847.15 1277.73,847.19 1279.57,847.22 1281.41,847.25 1283.26,847.29 1285.10,847.32 1286.94,847.36 1288.78,847.39 1290.62,847.43 1292.46,847.46 1294.30,847.50 1296.14,847.53 1297.98,847.57 1299.82,847.60 1301.66,847.64 1303.50,847.67 1305.34,847.71 1307.18,847.74 1309.02,847.78 1310.86,847.81 1312.70,847.85 1314.54,847.88 1316.38,847.92 1318.22,847.96 1320.06,847.99 1321.90,848.03 1323.74,848.06 1325.59,848.10 1327.43,848.14 1329.27,848.17 1331.11,848.21 1332.95,848.25 1334.79,848.28 1336.63,848.32 1338.47,848.36 1340.31,848.39 1342.15,848.43 1343.99,848.47 1345.83,848.51 1347.67,848.54 1349.51,848.58 1351.35,848.62 1353.19,848.66 1355.03,848.69 1356.87,848.73 1358.71,848.77 1360.55,848.81 1362.39,848.85 1364.23,848.88 1366.07,848.92 1367.91,848.96 1369.76,849.00 1371.60,849.04 1373.44,849.08 1375.28,849.12 1377.12,849.16 1378.96,849.20 1380.80,849.24 1382.64,849.27 1384.48,849.31 1386.32,849.35 1388.16,849.39 1390.00,849.43 1391.84,849.48 1393.68,849.52 1395.52,849.56 1397.36,849.60 1399.20,849.64 1401.04,849.68 1402.88,849.72 1404.72,849.76 1406.56,849.81 1408.40,849.85 1410.24,849.89 1412.09,849.93 1413.93,849.97 1415.77,850.02 1417.61,850.06 1419.45,850.10 1421.29,850.15 1423.13,850.19 1424.97,850.23 1426.81,850.28 1428.65,850.32 1430.49,850.36 1432.33,850.41 1434.17,850.45 1436.01,850.50 1437.85,850.54 1439.69,850.59 1441.53,850.63 1443.37,850.68 1445.21,850.72 1447.05,850.77 1448.89,850.81 1450.73,850.86 1452.57,850.90 1454.41,850.95 1456.26,850.99 1458.10,851.04 1459.94,851.09 1461.78,851.13 1463.62,851.18 1465.46,851.23 1467.30,851.27 1469.14,851.32 1470.98,851.37 1472.82,851.41 1474.66,851.46 1476.50,851.51 1478.34,851.55 1480.18,851.60 1482.02,851.65 1483.86,851.70 1485.70,851.74 1487.54,851.79 1489.38,851.84 1491.22,851.89 1493.06,851.94 1494.90,851.99 1496.74,852.03 1498.59,852.08 1500.43,852.13 1502.27,852.18 1504.11,852.23 1505.95,852.28 1507.79,852.33 1509.63,852.37 1511.47,852.42 1513.31,852.47 1515.15,852.52 1516.99,852.57 1518.83,852.62 1520.67,852.67 1522.51,852.72 1524.35,852.77 1526.19,852.82 1528.03,852.87 1529.87,852.92 1531.71,852.97 1533.55,853.02 1535.39,853.07 1537.23,853.12 1539.07,853.17 1540.91,853.22 1542.76,853.27 1544.60,853.32 1546.44,853.37 1548.28,853.42 1550.12,853.47 1551.96,853.52 1553.80,853.57 1555.64,853.62 1557.48,853.67 1559.32,853.73 1561.16,853.78 1563.00,853.83 1564.84,853.88 1566.68,853.93 1568.52,853.98 1570.36,854.03 1572.20,854.08 1574.04,854.13 1575.88,854.18 1577.72,854.24 1579.56,854.29 1581.40,854.34 1583.24,854.39 1585.09,854.44 1586.93,854.49 1588.77,854.54 1590.61,854.59 1592.45,854.65 1594.29,854.70 1596.13,854.75 1597.97,854.80 1599.81,854.85 1601.65,854.90 1603.49,854.95 1605.33,855.01 1607.17,855.06 1609.01,855.11 1610.85,855.16 1612.69,855.21 1614.53,855.26 1616.37,855.31 1618.21,855.37 1620.05,855.42 1621.89,855.47 1623.73,855.52 1625.57,855.57 1627.41,855.62 1629.26,855.67 1631.10,855.73 1632.94,855.78 1634.78,855.83 1636.62,855.88 1638.46,855.93 1640.30,855.98 1642.14,856.03 1643.98,856.09 1645.82,856.14 1647.66,856.19 1649.50,856.24 1651.34,856.29 1653.18,856.34 1655.02,856.39 1656.86,856.44 1658.70,856.49 1660.54,856.55 1662.38,856.60 1664.22,856.65 1666.06,856.70 1667.90,856.75 1669.74,856.80 1671.59,856.85 1673.43,856.90 1675.27,856.95 1677.11,857.00 1678.95,857.05 1680.79,857.10 1682.63,857.15 1684.47,857.21 1686.31,857.26 1688.15,857.31 1689.99,857.36 1691.83,857.41 1693.67,857.46 1695.51,857.51 1697.35,857.56 1699.19,857.61 1701.03,857.66 1702.87,857.71 1704.71,857.76 1706.55,857.81 1708.39,857.85 1710.23,857.90 1712.07,857.95 1713.91,858.00 1715.76,858.05 1717.60,858.10 1719.44,858.15 1721.28,858.20 1723.12,858.25 1724.96,858.30 1726.80,858.35 1728.64,858.40 1730.48,858.45 1732.32,858.50 1734.16,858.55 1736.00,858.60"/>
<polyline class="c" stroke="#ffa500" stroke-dasharray="80 19.4 13.4 19.2" stroke-dashoffset="3" points="265.50,910.50 267.34,910.50 269.18,910.50 271.02,910.50 272.86,910.50 274.70,910.50 276.54,910.50 278.38,910.50 280.22,910.50 282.06,910.50 283.90,910.50 285.74,910.50 287.59,910.50 289.43,910.50 291.27,910.50 293.11,910.50 294.95,910.50 296.79,910.50 298.63,910.50 300.47,910.50 302.31,910.47 304.15,910.40 305.99,910.33 307.83,910.25 309.67,910.21 311.51,910.18 313.35,910.16 315.19,910.14 317.03,910.12 318.87,910.10 320.71,910.09 322.55,910.08 324.39,910.06 326.23,910.05 328.07,910.04 329.91,910.03 331.76,910.02 333.60,910.01 335.44,910.00 337.28,909.99 339.12,909.98 340.96,909.97 342.80,909.96 344.64,909.95 346.48,909.93 348.32,909.92 350.16,909.90 352.00,909.88 353.84,909.86 355.68,909.85 357.52,909.83 359.36,909.81 361.20,909.80 363.04,909.78 364.88,909.76 366.72,909.75 368.56,909.73 370.40,909.71 372.24,909.68 374.09,909.66 375.93,909.64 377.77,909.61 379.61,909.58 381.45,909.55 383.29,909.52 385.13,909.48 386.97,909.45 388.81,909.40 390.65,909.36 392.49,909.31 394.33,909.25 396.17,909.14 398.01,909.00 399.85,908.81 401.69,908.60 403.53,908.36 405.37,908.09 407.21,907.81 409.05,907.52 410.89,907.22 412.73,906.91 414.57,906.61 416.41,906.32 418.26,906.04 420.10,905.77 421.94,905.50 423.78,905.23 425.62,904.95 427.46,904.67 429.30,904.38 431.14,904.08 432.98,903.76 434.82,903.43 436.66,903.07 438.50,902.69 440.34,902.28 442.18,901.84 444.02,901.36 445.86,900.85 447.70,900.29 449.54,899.70 451.38,899.08 453.22,898.42 455.06,897.73 456.90,897.01 458.74,896.26 460.59,895.48 462.43,894.68 464.27,893.84 466.11,892.99 467.95,892.11 469.79,891.21 471.63,890.28 473.47,889.28 475.31,888.22 477.15,887.09 478.99,885.90 480.83,884.65 482.67,883.34 484.51,881.97 486.35,880.55 488.19,879.09 490.03,877.57 491.87,876.01 493.71,874.38 495.55,872.66 497.39,870.84 499.23,868.93 501.07,866.92 502.91,864.83 504.76,862.65 506.60,860.38 508.44,858.03 510.28,855.59 512.12,853.04 513.96,850.38 515.80,847.61 517.64,844.73 519.48,841.76 521.32,838.69 523.16,835.54 525.00,832.31 526.84,829.00 528.68,825.62 530.52,822.17 532.36,818.67 534.20,815.11 536.04,811.50 537.88,807.85 539.72,804.16 541.56,800.44 543.40,796.70 545.24,792.93 547.09,789.15 548.93,785.34 550.77,781.41 552.61,777.35 554.45,773.13 556.29,768.72 558.13,764.10 559.97,759.16 561.81,753.81 563.65,748.23 565.49,742.58 567.33,737.01 569.17,731.48 571.01,725.91 572.85,720.31 574.69,714.69 576.53,709.05 578.37,703.41 580.21,697.76 582.05,692.11 583.89,686.48 585.73,680.87 587.57,675.28 589.41,669.73 591.26,664.22 593.10,658.77 594.94,653.40 596.78,648.06 598.62,642.69 600.46,637.23 602.30,631.74 604.14,626.21 605.98,620.60 607.82,614.88 609.66,609.00 611.50,602.91 613.34,596.67 615.18,590.31 617.02,583.89 618.86,577.44 620.70,571.01 622.54,564.64 624.38,558.37 626.22,552.26 628.06,546.33 629.90,540.64 631.74,535.22 633.59,530.14 635.43,525.30 637.27,520.58 639.11,515.86 640.95,511.00 642.79,505.95 644.63,500.81 646.47,495.73 648.31,490.84 650.15,486.28 651.99,481.93 653.83,477.61 655.67,473.39 657.51,469.32 659.35,465.48 661.19,461.90 663.03,458.66 664.87,455.80 666.71,453.13 668.55,450.53 670.39,448.05 672.23,445.73 674.07,443.62 675.91,441.74 677.76,440.15 679.60,438.89 681.44,437.92 683.28,437.01 685.12,436.14 686.96,435.31 688.80,434.56 690.64,433.87 692.48,433.28 694.32,432.78 696.16,432.40 698.00,432.14 699.84,432.01 701.68,432.07 703.52,432.47 705.36,433.18 707.20,434.16 709.04,435.38 710.88,436.80 712.72,438.38 714.56,440.09 716.40,441.88 718.24,443.72 720.09,445.58 721.93,447.47 723.77,449.68 725.61,452.24 727.45,455.07 729.29,458.11 731.13,461.29 732.97,464.54 734.81,467.81 736.65,471.08 738.49,474.43 740.33,477.88 742.17,481.41 744.01,485.02 745.85,488.71 747.69,492.48 749.53,496.32 751.37,500.23 753.21,504.20 755.05,508.23 756.89,512.32 758.73,516.47 760.57,520.67 762.41,524.91 764.26,529.20 766.10,533.53 767.94,537.90 769.78,542.33 771.62,547.00 773.46,551.86 775.30,556.80 777.14,561.72 778.98,566.54 780.82,571.34 782.66,576.13 784.50,580.89 786.34,585.59 788.18,590.20 790.02,594.75 791.86,599.28 793.70,603.79 795.54,608.27 797.38,612.72 799.22,617.15 801.06,621.55 802.90,625.93 804.74,630.28 806.59,634.60 808.43,638.89 810.27,643.16 812.11,647.40 813.95,651.62 815.79,655.81 817.63,659.97 819.47,664.10 821.31,668.19 823.15,672.24 824.99,676.23 826.83,680.17 828.67,684.04 830.51,687.85 832.35,691.63 834.19,695.37 836.03,699.05 837.87,702.65 839.71,706.15 841.55,709.52 843.39,712.80 845.23,716.06 847.07,719.30 848.91,722.51 850.76,725.70 852.60,728.86 854.44,731.99 856.28,735.09 858.12,738.16 859.96,741.19 861.80,744.18 863.64,747.14 865.48,750.06 867.32,752.93 869.16,755.76 871.00,758.55 872.84,761.30 874.68,763.99 876.52,766.63 878.36,769.23 880.20,771.77 882.04,774.25 883.88,776.68 885.72,779.05 887.56,781.36 889.40,783.59 891.24,785.76 893.09,787.87 894.93,789.92 896.77,791.91 898.61,793.85 900.45,795.74 902.29,797.58 904.13,799.38 905.97,801.14 907.81,802.86 909.65,804.54 911.49,806.18 913.33,807.78 915.17,809.34 917.01,810.86 918.85,812.35 920.69,813.79 922.53,815.22 924.37,816.66 926.21,818.09 928.05,819.53 929.89,820.97 931.73,822.40 933.57,823.84 935.41,825.27 937.26,826.69 939.10,828.11 940.94,829.52 942.78,830.92 944.62,832.30 946.46,833.68 948.30,835.04 950.14,836.39 951.98,837.71 953.82,839.02 955.66,840.32 957.50,841.59 959.34,842.83 961.18,844.06 963.02,845.25 964.86,846.43 966.70,847.57 968.54,848.68 970.38,849.77 972.22,850.82 974.06,851.83 975.90,852.82 977.74,853.76 979.59,854.67 981.43,855.54 983.27,856.36 985.11,857.15 986.95,857.89 988.79,858.59 990.63,859.23 992.47,859.83 994.31,860.39 996.15,860.91 997.99,861.40 999.83,861.87 1001.67,862.32 1003.51,862.77 1005.35,863.21 1007.19,863.67 1009.03,864.13 1010.87,864.62 1012.71,865.13 1014.55,865.67 1016.39,866.25 1018.23,866.84 1020.07,867.45 1021.91,868.07 1023.76,868.69 1025.60,869.32 1027.44,869.94 1029.28,870.55 1031.12,871.14 1032.96,871.70 1034.80,872.24 1036.64,872.75 1038.48,873.22 1040.32,873.69 1042.16,874.15 1044.00,874.60 1045.84,875.05 1047.68,875.50 1049.52,875.95 1051.36,876.39 1053.20,876.83 1055.04,877.26 1056.88,877.69 1058.72,878.11 1060.56,878.53 1062.40,878.95 1064.24,879.36 1066.09,879.76 1067.93,880.17 1069.77,880.56 1071.61,880.95 1073.45,881.34 1075.29,881.72 1077.13,882.09 1078.97,882.46 1080.81,882.82 1082.65,883.18 1084.49,883.53 1086.33,883.87 1088.17,884.21 1090.01,884.54 1091.85,884.87 1093.69,885.18 1095.53,885.50 1097.37,885.80 1099.21,886.10 1101.05,886.39 1102.89,886.67 1104.73,886.95 1106.57,887.22 1108.41,887.48 1110.26,887.73 1112.10,887.98 1113.94,888.22 1115.78,888.45 1117.62,888.67 1119.46,888.87 1121.30,889.05 1123.14,889.23 1124.98,889.39 1126.82,889.55 1128.66,889.70 1130.50,889.85 1132.34,890.01 1134.18,890.17 1136.02,890.34 1137.86,890.51 1139.70,890.70 1141.54,890.91 1143.38,891.14 1145.22,891.40 1147.06,891.70 1148.90,892.01 1150.74,892.35 1152.59,892.70 1154.43,893.05 1156.27,893.41 1158.11,893.76 1159.95,894.10 1161.79,894.42 1163.63,894.71 1165.47,894.98 1167.31,895.20 1169.15,895.40 1170.99,895.58 1172.83,895.76 1174.67,895.93 1176.51,896.11 1178.35,896.27 1180.19,896.44 1182.03,896.60 1183.87,896.75 1185.71,896.91 1187.55,897.06 1189.39,897.20 1191.23,897.34 1193.07,897.48 1194.91,897.62 1196.76,897.75 1198.60,897.88 1200.44,898.01 1202.28,898.14 1204.12,898.26 1205.96,898.38 1207.80,898.50 1209.64,898.61 1211.48,898.72 1213.32,898.83 1215.16,898.94 1217.00,899.05 1218.84,899.15 1220.68,899.25 1222.52,899.35 1224.36,899.45 1226.20,899.54 1228.04,899.64 1229.88,899.73 1231.72,899.82 1233.56,899.91 1235.40,900.00 1237.24,900.09 1239.09,900.17 1240.93,900.26 1242.77,900.34 1244.61,900.42 1246.45,900.51 1248.29,900.59 1250.13,900.67 1251.97,900.74 1253.81,900.82 1255.65,900.89 1257.49,900.95 1259.33,901.02 1261.17,901.08 1263.01,901.15 1264.85,901.21 1266.69,901.27 1268.53,901.33 1270.37,901.39 1272.21,901.44 1274.05,901.50 1275.89,901.56 1277.73,901.61 1279.57,901.67 1281.41,901.72 1283.26,901.78 1285.10,901.83 1286.94,901.88 1288.78,901.93 1290.62,901.98 1292.46,902.03 1294.30,902.08 1296.14,902.13 1297.98,902.18 1299.82,902.22 1301.66,902.27 1303.50,902.32 1305.34,902.36 1307.18,902.41 1309.02,902.46 1310.86,902.50 1312.70,902.55 1314.54,902.60 1316.38,902.64 1318.22,902.69 1320.06,902.74 1321.90,902.79 1323.74,902.84 1325.59,902.89 1327.43,902.94 1329.27,902.99 1331.11,903.04 1332.95,903.09 1334.79,903.14 1336.63,903.20 1338.47,903.25 1340.31,903.31 1342.15,903.37 1343.99,903.43 1345.83,903.49 1347.67,903.55 1349.51,903.62 1351.35,903.69 1353.19,903.75 1355.03,903.82 1356.87,903.89 1358.71,903.96 1360.55,904.04 1362.39,904.11 1364.23,904.18 1366.07,904.25 1367.91,904.32 1369.76,904.40 1371.60,904.47 1373.44,904.54 1375.28,904.61 1377.12,904.68 1378.96,904.75 1380.80,904.81 1382.64,904.88 1384.48,904.94 1386.32,905.01 1388.16,905.07 1390.00,905.13 1391.84,905.18 1393.68,905.24 1395.52,905.29 1397.36,905.34 1399.20,905.38 1401.04,905.42 1402.88,905.47 1404.72,905.51 1406.56,905.54 1408.40,905.58 1410.24,905.62 1412.09,905.66 1413.93,905.69 1415.77,905.72 1417.61,905.76 1419.45,905.79 1421.29,905.82 1423.13,905.85 1424.97,905.88 1426.81,905.91 1428.65,905.94 1430.49,905.97 1432.33,906.00 1434.17,906.03 1436.01,906.06 1437.85,906.08 1439.69,906.11 1441.53,906.14 1443.37,906.17 1445.21,906.20 1447.05,906.22 1448.89,906.25 1450.73,906.28 1452.57,906.31 1454.41,906.34 1456.26,906.37 1458.10,906.40 1459.94,906.43 1461.78,906.46 1463.62,906.49 1465.46,906.52 1467.30,906.55 1469.14,906.58 1470.98,906.62 1472.82,906.65 1474.66,906.69 1476.50,906.73 1478.34,906.76 1480.18,906.80 1482.02,906.84 1483.86,906.88 1485.70,906.92 1487.54,906.96 1489.38,907.00 1491.22,907.04 1493.06,907.08 1494.90,907.12 1496.74,907.16 1498.59,907.20 1500.43,907.24 1502.27,907.29 1504.11,907.33 1505.95,907.37 1507.79,907.41 1509.63,907.45 1511.47,907.49 1513.31,907.53 1515.15,907.56 1516.99,907.60 1518.83,907.64 1520.67,907.68 1522.51,907.71 1524.35,907.75 1526.19,907.78 1528.03,907.81 1529.87,907.85 1531.71,907.88 1533.55,907.91 1535.39,907.93 1537.23,907.96 1539.07,907.99 1540.91,908.01 1542.76,908.04 1544.60,908.06 1546.44,908.08 1548.28,908.10 1550.12,908.13 1551.96,908.15 1553.80,908.17 1555.64,908.19 1557.48,908.21 1559.32,908.23 1561.16,908.25 1563.00,908.27 1564.84,908.29 1566.68,908.30 1568.52,908.32 1570.36,908.34 1572.20,908.36 1574.04,908.37 1575.88,908.39 1577.72,908.41 1579.56,908.42 1581.40,908.44 1583.24,908.46 1585.09,908.47 1586.93,908.49 1588.77,908.51 1590.61,908.52 1592.45,908.54 1594.29,908.55 1596.13,908.57 1597.97,908.58 1599.81,908.60 1601.65,908.61 1603.49,908.63 1605.33,908.64 1607.17,908.66 1609.01,908.68 1610.85,908.69 1612.69,908.71 1614.53,908.72 1616.37,908.74 1618.21,908.75 1620.05,908.77 1621.89,908.78 1623.73,908.80 1625.57,908.81 1627.41,908.83 1629.26,908.84 1631.10,908.86 1632.94,908.87 1634.78,908.88 1636.62,908.90 1638.46,908.91 1640.30,908.93 1642.14,908.94 1643.98,908.95 1645.82,908.96 1647.66,908.98 1649.50,908.99 1651.34,909.00 1653.18,909.01 1655.02,909.02 1656.86,909.03 1658.70,909.04 1660.54,909.05 1662.38,909.06 1664.22,909.07 1666.06,909.08 1667.90,909.09 1669.74,909.10 1671.59,909.11 1673.43,909.11 1675.27,909.12 1677.11,909.13 1678.95,909.14 1680.79,909.14 1682.63,909.15 1684.47,909.16 1686.31,909.17 1688.15,909.17 1689.99,909.18 1691.83,909.19 1693.67,909.19 1695.51,909.20 1697.35,909.21 1699.19,909.21 1701.03,909.22 1702.87,909.23 1704.71,909.23 1706.55,909.24 1708.39,909.24 1710.23,909.25 1712.07,909.25 1713.91,909.26 1715.76,909.26 1717.60,909.27 1719.44,909.27 1721.28,909.28 1723.12,909.28 1724.96,909.28 1726.80,909.29 1728.64,909.29 1730.48,909.29 1732.32,909.30 1734.16,909.30 1736.00,909.30"/>
<polyline class="c" stroke="#000" points="265.50,910.50 267.34,910.50 269.18,910.50 271.02,910.50 272.86,910.50 274.70,910.50 276.54,910.50 278.38,910.50 280.22,910.50 282.06,910.50 283.90,910.50 285.74,910.50 287.59,910.50 289.43,910.50 291.27,910.50 293.11,910.50 294.95,910.50 296.79,910.50 298.63,910.50 300.47,910.50 302.31,910.50 304.15,910.50 305.99,910.50 307.83,910.50 309.67,910.50 311.51,910.50 313.35,910.50 315.19,910.50 317.03,910.50 318.87,910.50 320.71,910.50 322.55,910.50 324.39,910.50 326.23,910.50 328.07,910.50 329.91,910.46 331.76,910.27 333.60,910.20 335.44,910.19 337.28,910.18 339.12,910.18 340.96,910.17 342.80,910.17 344.64,910.16 346.48,910.16 348.32,910.16 350.16,910.15 352.00,910.15 353.84,910.15 355.68,910.15 357.52,910.14 359.36,910.14 361.20,910.14 363.04,910.14 364.88,910.14 366.72,910.14 368.56,910.14 370.40,910.14 372.24,910.13 374.09,910.13 375.93,910.13 377.77,910.13 379.61,910.13 381.45,910.13 383.29,910.13 385.13,910.13 386.97,910.12 388.81,910.12 390.65,910.12 392.49,910.12 394.33,910.11 396.17,910.11 398.01,910.10 399.85,910.10 401.69,910.10 403.53,910.09 405.37,910.08 407.21,910.07 409.05,910.06 410.89,910.05 412.73,910.04 414.57,910.03 416.41,910.02 418.26,910.00 420.10,909.99 421.94,909.97 423.78,909.96 425.62,909.94 427.46,909.92 429.30,909.91 431.14,909.89 432.98,909.87 434.82,909.84 436.66,909.82 438.50,909.79 440.34,909.76 442.18,909.72 444.02,909.69 445.86,909.65 447.70,909.61 449.54,909.56 451.38,909.51 453.22,909.45 455.06,909.38 456.90,909.30 458.74,909.20 460.59,909.09 462.43,908.97 464.27,908.84 466.11,908.71 467.95,908.56 469.79,908.41 471.63,908.25 473.47,908.09 475.31,907.92 477.15,907.75 478.99,907.57 480.83,907.40 482.67,907.22 484.51,907.05 486.35,906.87 488.19,906.69 490.03,906.51 491.87,906.32 493.71,906.13 495.55,905.93 497.39,905.72 499.23,905.51 501.07,905.30 502.91,905.08 504.76,904.85 506.60,904.62 508.44,904.37 510.28,904.12 512.12,903.87 513.96,903.60 515.80,903.33 517.64,903.04 519.48,902.75 521.32,902.45 523.16,902.14 525.00,901.81 526.84,901.48 528.68,901.14 530.52,900.78 532.36,900.38 534.20,899.95 536.04,899.48 537.88,898.98 539.72,898.45 541.56,897.89 543.40,897.30 545.24,896.70 547.09,896.07 548.93,895.43 550.77,894.77 552.61,894.10 554.45,893.42 556.29,892.73 558.13,892.04 559.97,891.34 561.81,890.64 563.65,889.94 565.49,889.25 567.33,888.56 569.17,887.89 571.01,887.22 572.85,886.57 574.69,885.93 576.53,885.30 578.37,884.65 580.21,884.00 582.05,883.34 583.89,882.67 585.73,882.00 587.57,881.32 589.41,880.64 591.26,879.96 593.10,879.28 594.94,878.60 596.78,877.92 598.62,877.24 600.46,876.57 602.30,875.91 604.14,875.26 605.98,874.61 607.82,873.97 609.66,873.35 611.50,872.73 613.34,872.13 615.18,871.55 617.02,870.98 618.86,870.43 620.70,869.89 622.54,869.35 624.38,868.81 626.22,868.26 628.06,867.72 629.90,867.18 631.74,866.65 633.59,866.11 635.43,865.59 637.27,865.07 639.11,864.56 640.95,864.06 642.79,863.57 644.63,863.09 646.47,862.63 648.31,862.18 650.15,861.74 651.99,861.33 653.83,860.93 655.67,860.55 657.51,860.19 659.35,859.86 661.19,859.54 663.03,859.26 664.87,858.99 666.71,858.73 668.55,858.46 670.39,858.20 672.23,857.94 674.07,857.68 675.91,857.43 677.76,857.19 679.60,856.96 681.44,856.75 683.28,856.54 685.12,856.36 686.96,856.19 688.80,856.04 690.64,855.92 692.48,855.82 694.32,855.75 696.16,855.71 698.00,855.70 699.84,855.71 701.68,855.75 703.52,855.80 705.36,855.86 707.20,855.94 709.04,856.04 710.88,856.15 712.72,856.28 714.56,856.41 716.40,856.56 718.24,856.71 720.09,856.88 721.93,857.05 723.77,857.23 725.61,857.41 727.45,857.60 729.29,857.79 731.13,857.98 732.97,858.20 734.81,858.46 736.65,858.76 738.49,859.10 740.33,859.48 742.17,859.89 744.01,860.34 745.85,860.81 747.69,861.30 749.53,861.82 751.37,862.35 753.21,862.90 755.05,863.46 756.89,864.02 758.73,864.59 760.57,865.16 762.41,865.73 764.26,866.30 766.10,866.86 767.94,867.40 769.78,867.93 771.62,868.45 773.46,868.94 775.30,869.40 777.14,869.85 778.98,870.30 780.82,870.74 782.66,871.19 784.50,871.65 786.34,872.10 788.18,872.55 790.02,873.01 791.86,873.46 793.70,873.92 795.54,874.37 797.38,874.82 799.22,875.27 801.06,875.72 802.90,876.16 804.74,876.61 806.59,877.04 808.43,877.48 810.27,877.91 812.11,878.33 813.95,878.75 815.79,879.16 817.63,879.57 819.47,879.96 821.31,880.35 823.15,880.74 824.99,881.11 826.83,881.48 828.67,881.84 830.51,882.18 832.35,882.52 834.19,882.85 836.03,883.16 837.87,883.46 839.71,883.76 841.55,884.04 843.39,884.31 845.23,884.59 847.07,884.86 848.91,885.12 850.76,885.38 852.60,885.63 854.44,885.89 856.28,886.13 858.12,886.38 859.96,886.62 861.80,886.85 863.64,887.09 865.48,887.32 867.32,887.54 869.16,887.77 871.00,887.99 872.84,888.20 874.68,888.42 876.52,888.63 878.36,888.84 880.20,889.05 882.04,889.25 883.88,889.45 885.72,889.65 887.56,889.85 889.40,890.05 891.24,890.24 893.09,890.43 894.93,890.63 896.77,890.82 898.61,891.00 900.45,891.19 902.29,891.38 904.13,891.56 905.97,891.74 907.81,891.93 909.65,892.11 911.49,892.29 913.33,892.47 915.17,892.65 917.01,892.83 918.85,893.01 920.69,893.19 922.53,893.38 924.37,893.56 926.21,893.74 928.05,893.92 929.89,894.10 931.73,894.28 933.57,894.47 935.41,894.65 937.26,894.83 939.10,895.02 940.94,895.21 942.78,895.39 944.62,895.58 946.46,895.76 948.30,895.95 950.14,896.14 951.98,896.32 953.82,896.51 955.66,896.69 957.50,896.88 959.34,897.06 961.18,897.24 963.02,897.43 964.86,897.61 966.70,897.79 968.54,897.96 970.38,898.14 972.22,898.32 974.06,898.49 975.90,898.66 977.74,898.83 979.59,899.00 981.43,899.16 983.27,899.32 985.11,899.48 986.95,899.64 988.79,899.79 990.63,899.95 992.47,900.09 994.31,900.24 996.15,900.38 997.99,900.52 999.83,900.66 1001.67,900.79 1003.51,900.92 1005.35,901.04 1007.19,901.16 1009.03,901.28 1010.87,901.39 1012.71,901.50 1014.55,901.60 1016.39,901.70 1018.23,901.79 1020.07,901.88 1021.91,901.97 1023.76,902.06 1025.60,902.15 1027.44,902.24 1029.28,902.33 1031.12,902.42 1032.96,902.50 1034.80,902.59 1036.64,902.68 1038.48,902.76 1040.32,902.85 1042.16,902.93 1044.00,903.01 1045.84,903.10 1047.68,903.18 1049.52,903.26 1051.36,903.34 1053.20,903.42 1055.04,903.50 1056.88,903.58 1058.72,903.66 1060.56,903.74 1062.40,903.82 1064.24,903.89 1066.09,903.97 1067.93,904.04 1069.77,904.12 1071.61,904.19 1073.45,904.27 1075.29,904.34 1077.13,904.41 1078.97,904.48 1080.81,904.56 1082.65,904.63 1084.49,904.70 1086.33,904.77 1088.17,904.83 1090.01,904.90 1091.85,904.97 1093.69,905.04 1095.53,905.10 1097.37,905.17 1099.21,905.23 1101.05,905.29 1102.89,905.36 1104.73,905.42 1106.57,905.48 1108.41,905.54 1110.26,905.60 1112.10,905.66 1113.94,905.72 1115.78,905.78 1117.62,905.84 1119.46,905.89 1121.30,905.95 1123.14,906.00 1124.98,906.06 1126.82,906.11 1128.66,906.17 1130.50,906.22 1132.34,906.27 1134.18,906.32 1136.02,906.37 1137.86,906.42 1139.70,906.47 1141.54,906.51 1143.38,906.56 1145.22,906.61 1147.06,906.65 1148.90,906.70 1150.74,906.74 1152.59,906.78 1154.43,906.83 1156.27,906.87 1158.11,906.91 1159.95,906.95 1161.79,906.99 1163.63,907.03 1165.47,907.06 1167.31,907.10 1169.15,907.14 1170.99,907.17 1172.83,907.20 1174.67,907.24 1176.51,907.27 1178.35,907.30 1180.19,907.33 1182.03,907.36 1183.87,907.39 1185.71,907.42 1187.55,907.45 1189.39,907.47 1191.23,907.50 1193.07,907.52 1194.91,907.55 1196.76,907.57 1198.60,907.59 1200.44,907.61 1202.28,907.64 1204.12,907.66 1205.96,907.68 1207.80,907.70 1209.64,907.72 1211.48,907.74 1213.32,907.76 1215.16,907.78 1217.00,907.80 1218.84,907.82 1220.68,907.84 1222.52,907.86 1224.36,907.87 1226.20,907.89 1228.04,907.91 1229.88,907.93 1231.72,907.95 1233.56,907.97 1235.40,907.98 1237.24,908.00 1239.09,908.02 1240.93,908.03 1242.77,908.05 1244.61,908.07 1246.45,908.09 1248.29,908.10 1250.13,908.12 1251.97,908.13 1253.81,908.15 1255.65,908.17 1257.49,908.18 1259.33,908.20 1261.17,908.21 1263.01,908.23 1264.85,908.24 1266.69,908.26 1268.53,908.27 1270.37,908.29 1272.21,908.30 1274.05,908.31 1275.89,908.33 1277.73,908.34 1279.57,908.36 1281.41,908.37 1283.26,908.38 1285.10,908.40 1286.94,908.41 1288.78,908.42 1290.62,908.44 1292.46,908.45 1294.30,908.46 1296.14,908.47 1297.98,908.49 1299.82,908.50 1301.66,908.51 1303.50,908.52 1305.34,908.53 1307.18,908.55 1309.02,908.56 1310.86,908.57 1312.70,908.58 1314.54,908.59 1316.38,908.60 1318.22,908.61 1320.06,908.62 1321.90,908.63 1323.74,908.65 1325.59,908.66 1327.43,908.67 1329.27,908.68 1331.11,908.69 1332.95,908.70 1334.79,908.71 1336.63,908.72 1338.47,908.73 1340.31,908.74 1342.15,908.75 1343.99,908.76 1345.83,908.76 1347.67,908.77 1349.51,908.78 1351.35,908.79 1353.19,908.80 1355.03,908.81 1356.87,908.82 1358.71,908.83 1360.55,908.84 1362.39,908.85 1364.23,908.85 1366.07,908.86 1367.91,908.87 1369.76,908.88 1371.60,908.89 1373.44,908.90 1375.28,908.90 1377.12,908.91 1378.96,908.92 1380.80,908.93 1382.64,908.94 1384.48,908.94 1386.32,908.95 1388.16,908.96 1390.00,908.97 1391.84,908.97 1393.68,908.98 1395.52,908.99 1397.36,909.00 1399.20,909.00 1401.04,909.01 1402.88,909.02 1404.72,909.02 1406.56,909.03 1408.40,909.04 1410.24,909.04 1412.09,909.05 1413.93,909.05 1415.77,909.06 1417.61,909.07 1419.45,909.07 1421.29,909.08 1423.13,909.08 1424.97,909.09 1426.81,909.09 1428.65,909.10 1430.49,909.10 1432.33,909.11 1434.17,909.11 1436.01,909.12 1437.85,909.12 1439.69,909.12 1441.53,909.13 1443.37,909.13 1445.21,909.14 1447.05,909.14 1448.89,909.15 1450.73,909.15 1452.57,909.15 1454.41,909.16 1456.26,909.16 1458.10,909.17 1459.94,909.17 1461.78,909.18 1463.62,909.18 1465.46,909.19 1467.30,909.19 1469.14,909.20 1470.98,909.20 1472.82,909.21 1474.66,909.21 1476.50,909.22 1478.34,909.22 1480.18,909.23 1482.02,909.23 1483.86,909.24 1485.70,909.25 1487.54,909.25 1489.38,909.26 1491.22,909.27 1493.06,909.27 1494.90,909.28 1496.74,909.29 1498.59,909.29 1500.43,909.30 1502.27,909.31 1504.11,909.32 1505.95,909.33 1507.79,909.34 1509.63,909.35 1511.47,909.37 1513.31,909.38 1515.15,909.39 1516.99,909.41 1518.83,909.42 1520.67,909.44 1522.51,909.45 1524.35,909.47 1526.19,909.48 1528.03,909.50 1529.87,909.51 1531.71,909.53 1533.55,909.54 1535.39,909.56 1537.23,909.57 1539.07,909.59 1540.91,909.60 1542.76,909.62 1544.60,909.63 1546.44,909.64 1548.28,909.65 1550.12,909.66 1551.96,909.67 1553.80,909.68 1555.64,909.69 1557.48,909.69 1559.32,909.70 1561.16,909.70 1563.00,909.71 1564.84,909.71 1566.68,909.71 1568.52,909.72 1570.36,909.72 1572.20,909.73 1574.04,909.73 1575.88,909.73 1577.72,909.74 1579.56,909.74 1581.40,909.74 1583.24,909.75 1585.09,909.75 1586.93,909.76 1588.77,909.76 1590.61,909.76 1592.45,909.77 1594.29,909.77 1596.13,909.77 1597.97,909.78 1599.81,909.78 1601.65,909.78 1603.49,909.78 1605.33,909.79 1607.17,909.79 1609.01,909.79 1610.85,909.80 1612.69,909.80 1614.53,909.80 1616.37,909.81 1618.21,909.81 1620.05,909.81 1621.89,909.81 1623.73,909.82 1625.57,909.82 1627.41,909.82 1629.26,909.82 1631.10,909.83 1632.94,909.83 1634.78,909.83 1636.62,909.83 1638.46,909.84 1640.30,909.84 1642.14,909.84 1643.98,909.84 1645.82,909.85 1647.66,909.85 1649.50,909.85 1651.34,909.85 1653.18,909.85 1655.02,909.86 1656.86,909.86 1658.70,909.86 1660.54,909.86 1662.38,909.86 1664.22,909.87 1666.06,909.87 1667.90,909.87 1669.74,909.87 1671.59,909.87 1673.43,909.87 1675.27,909.88 1677.11,909.88 1678.95,909.88 1680.79,909.88 1682.63,909.88 1684.47,909.88 1686.31,909.88 1688.15,909.88 1689.99,909.89 1691.83,909.89 1693.67,909.89 1695.51,909.89 1697.35,909.89 1699.19,909.89 1701.03,909.89 1702.87,909.89 1704.71,909.89 1706.55,909.89 1708.39,909.89 1710.23,909.90 1712.07,909.90 1713.91,909.90 1715.76,909.90 1717.60,909.90 1719.44,909.90 1721.28,909.90 1723.12,909.90 1724.96,909.90 1726.80,909.90 1728.64,909.90 1730.48,909.90 1732.32,909.90 1734.16,909.90 1736.00,909.90"/>
</g>
<path d="M302.5 101V114M302.5 949V936M339.5 101V114M339.5 949V936M375.5 101V114M375.5 949V936M412.5 101V114M412.5 949V936M449.5 101V142.5M449.5 949V907M486.5 101V114M486.5 949V936M522.5 101V114M522.5 949V936M559.5 101V114M559.5 949V936M596.5 101V114M596.5 949V936M633.5 101V142.5M633.5 949V907M669.5 101V114M669.5 949V936M706.5 101V114M706.5 949V936M743.5 101V114M743.5 949V936M780.5 101V114M780.5 949V936M816.5 101V142.5M816.5 949V907M853.5 101V114M853.5 949V936M890.5 101V114M890.5 949V936M927.5 101V114M927.5 949V936M963.5 101V114M963.5 949V936M1000.5 101V142.5M1000.5 949V907M1037.5 101V114M1037.5 949V936M1074.5 101V114M1074.5 949V936M1111.5 101V114M1111.5 949V936M1147.5 101V114M1147.5 949V936M1184.5 101V142.5M1184.5 949V907M1221.5 101V114M1221.5 949V936M1258.5 101V114M1258.5 949V936M1294.5 101V114M1294.5 949V936M1331.5 101V114M1331.5 949V936M1368.5 101V142.5M1368.5 949V907M1405.5 101V114M1405.5 949V936M1441.5 101V114M1441.5 949V936M1478.5 101V114M1478.5 949V936M1515.5 101V114M1515.5 949V936M1552.5 101V142.5M1552.5 949V907M1588.5 101V114M1588.5 949V936M1625.5 101V114M1625.5 949V936M1662.5 101V114M1662.5 949V936M1699.5 101V114M1699.5 949V936M265.5 942.5H279M1736 942.5H1723M265.5 910.5H308M1736 910.5H1694M265.5 878.5H279M1736 878.5H1723M265.5 847.5H279M1736 847.5H1723M265.5 815.5H279M1736 815.5H1723M265.5 783.5H279M1736 783.5H1723M265.5 752.5H308M1736 752.5H1694M265.5 720.5H279M1736 720.5H1723M265.5 689.5H279M1736 689.5H1723M265.5 657.5H279M1736 657.5H1723M265.5 625.5H279M1736 625.5H1723M265.5 594.5H308M1736 594.5H1694M265.5 562.5H279M1736 562.5H1723M265.5 530.5H279M1736 530.5H1723M265.5 499.5H279M1736 499.5H1723M265.5 467.5H279M1736 467.5H1723M265.5 435.5H308M1736 435.5H1694M265.5 404.5H279M1736 404.5H1723M265.5 372.5H279M1736 372.5H1723M265.5 340.5H279M1736 340.5H1723M265.5 309.5H279M1736 309.5H1723M265.5 277.5H308M1736 277.5H1694M265.5 246.5H279M1736 246.5H1723M265.5 214.5H279M1736 214.5H1723M265.5 182.5H279M1736 182.5H1723M265.5 151.5H279M1736 151.5H1723M265.5 119.5H308M1736 119.5H1694" stroke="#000" stroke-width="5" fill="none"/>
<path d="M262 97H1740V953H262ZM269 105V945H1732V105Z" fill="#000" fill-rule="evenodd"/>
<g><rect x="1009" y="242" width="13" height="13" fill="#0000ff"/><rect x="1077" y="242" width="14" height="13" fill="#0000ff"/><rect x="1009" y="323" width="80" height="14" fill="#ffa500"/><rect x="1108" y="323" width="14" height="14" fill="#ffa500"/><rect x="1009" y="552" width="47" height="14" fill="#ff0000"/><rect x="1075" y="552" width="47" height="14" fill="#ff0000"/><rect x="1009" y="639" width="13" height="14" fill="#008000"/><rect x="1042" y="639" width="13" height="14" fill="#008000"/><rect x="1075" y="639" width="13" height="14" fill="#008000"/><rect x="1108" y="639" width="13" height="14" fill="#008000"/><rect x="1002" y="726" width="131" height="14" fill="#000"/></g>
<polygon clip-path="url(#ax2)" points="272.1,960 272.10,944.39 273.55,944.39 274.99,944.39 276.44,944.39 277.89,944.39 279.33,944.38 280.78,944.38 282.23,944.38 283.67,944.38 285.12,944.38 286.56,944.38 288.01,944.37 289.46,944.37 290.90,944.37 292.35,944.37 293.80,944.36 295.24,944.36 296.69,944.36 298.14,944.35 299.58,944.35 301.03,944.35 302.48,944.34 303.92,944.34 305.37,944.33 306.82,944.33 308.26,944.32 309.71,944.32 311.16,944.31 312.60,944.30 314.05,944.29 315.49,944.28 316.94,944.28 318.39,944.27 319.83,944.26 321.28,944.24 322.73,944.23 324.17,944.22 325.62,944.21 327.07,944.19 328.51,944.18 329.96,944.16 331.41,944.14 332.85,944.12 334.30,944.10 335.75,944.08 337.19,944.06 338.64,944.03 340.09,944.01 341.53,943.98 342.98,943.95 344.42,943.92 345.87,943.88 347.32,943.84 348.76,943.81 350.21,943.76 351.66,943.72 353.10,943.67 354.55,943.62 356.00,943.57 357.44,943.52 358.89,943.46 360.34,943.39 361.78,943.32 363.23,943.25 364.68,943.18 366.12,943.10 367.57,943.01 369.02,942.92 370.46,942.83 371.91,942.73 373.35,942.62 374.80,942.51 376.25,942.39 377.69,942.26 379.14,942.13 380.59,941.99 382.03,941.84 383.48,941.68 384.93,941.52 386.37,941.35 387.82,941.16 389.27,940.97 390.71,940.76 392.16,940.55 393.61,940.32 395.05,940.09 396.50,939.84 397.94,939.57 399.39,939.30 400.84,939.01 402.28,938.70 403.73,938.39 405.18,938.05 406.62,937.70 408.07,937.33 409.52,936.94 410.96,936.54 412.41,936.12 413.86,935.67 415.30,935.21 416.75,934.72 418.20,934.22 419.64,933.68 421.09,933.13 422.54,932.55 423.98,931.95 425.43,931.32 426.87,930.66 428.32,929.97 429.77,929.26 431.21,928.51 432.66,927.74 434.11,926.93 435.55,926.09 437.00,925.21 438.45,924.30 439.89,923.36 441.34,922.37 442.79,921.35 444.23,920.29 445.68,919.19 447.13,918.05 448.57,916.87 450.02,915.65 451.47,914.37 452.91,913.06 454.36,911.70 455.80,910.29 457.25,908.83 458.70,907.32 460.14,905.77 461.59,904.16 463.04,902.49 464.48,900.78 465.93,899.01 467.38,897.18 468.82,895.30 470.27,893.36 471.72,891.36 473.16,889.31 474.61,887.19 476.06,885.01 477.50,882.77 478.95,880.47 480.39,878.10 481.84,875.68 483.29,873.18 484.73,870.63 486.18,868.00 487.63,865.31 489.07,862.56 490.52,859.74 491.97,856.85 493.41,853.90 494.86,850.87 496.31,847.78 497.75,844.63 499.20,841.40 500.65,838.11 502.09,834.76 503.54,831.33 504.99,827.84 506.43,824.29 507.88,820.67 509.32,816.99 510.77,813.24 512.22,809.43 513.66,805.56 515.11,801.63 516.56,797.64 518.00,793.59 519.45,789.49 520.90,785.33 522.34,781.12 523.79,776.85 525.24,772.54 526.68,768.17 528.13,763.77 529.58,759.31 531.02,754.82 532.47,750.29 533.92,745.72 535.36,741.12 536.81,736.48 538.25,731.82 539.70,727.13 541.15,722.41 542.59,717.68 544.04,712.93 545.49,708.17 546.93,703.39 548.38,698.61 549.83,693.83 551.27,689.04 552.72,684.26 554.17,679.48 555.61,674.71 557.06,669.96 558.51,665.22 559.95,660.51 561.40,655.82 562.85,651.16 564.29,646.53 565.74,641.93 567.18,637.37 568.63,632.86 570.08,628.40 571.52,623.98 572.97,619.62 574.42,615.31 575.86,611.06 577.31,606.88 578.76,602.77 580.20,598.72 581.65,594.75 583.10,590.86 584.54,587.05 585.99,583.32 587.44,579.67 588.88,576.11 590.33,572.65 591.77,569.27 593.22,566.00 594.67,562.82 596.11,559.74 597.56,556.77 599.01,553.90 600.45,551.13 601.90,548.48 603.35,545.94 604.79,543.50 606.24,541.19 607.69,538.98 609.13,536.90 610.58,534.93 612.03,533.08 613.47,531.35 614.92,529.74 616.37,528.25 617.81,526.88 619.26,525.64 620.70,524.52 622.15,523.53 623.60,522.66 625.04,521.92 626.49,521.31 627.94,520.82 629.38,520.45 630.83,520.22 632.28,520.11 633.72,520.13 635.17,520.27 636.62,520.54 638.06,520.94 639.51,521.46 640.96,522.12 642.40,522.89 643.85,523.79 645.30,524.82 646.74,525.97 648.19,527.25 649.63,528.65 651.08,530.17 652.53,531.81 653.97,533.58 655.42,535.46 656.87,537.46 658.31,539.58 659.76,541.82 661.21,544.17 662.65,546.63 664.10,549.20 665.55,551.89 666.99,554.68 668.44,557.58 669.89,560.58 671.33,563.69 672.78,566.89 674.23,570.20 675.67,573.60 677.12,577.09 678.56,580.67 680.01,584.34 681.46,588.09 682.90,591.93 684.35,595.84 685.80,599.84 687.24,603.90 688.69,608.03 690.14,612.23 691.58,616.49 693.03,620.82 694.48,625.20 695.92,629.63 697.37,634.11 698.82,638.63 700.26,643.20 701.71,647.80 703.15,652.44 704.60,657.11 706.05,661.81 707.49,666.53 708.94,671.27 710.39,676.03 711.83,680.80 713.28,685.58 714.73,690.36 716.17,695.15 717.62,699.93 719.07,704.71 720.51,709.49 721.96,714.25 723.41,718.99 724.85,723.72 726.30,728.43 727.75,733.11 729.19,737.77 730.64,742.39 732.08,746.99 733.53,751.55 734.98,756.07 736.42,760.55 737.87,764.99 739.32,769.39 740.76,773.73 742.21,778.04 743.66,782.29 745.10,786.48 746.55,790.63 748.00,794.72 749.44,798.75 750.89,802.72 752.34,806.64 753.78,810.49 755.23,814.28 756.68,818.01 758.12,821.68 759.57,825.28 761.01,828.82 762.46,832.29 763.91,835.69 765.35,839.03 766.80,842.30 768.25,845.51 769.69,848.64 771.14,851.72 772.59,854.72 774.03,857.66 775.48,860.52 776.93,863.33 778.37,866.06 779.82,868.73 781.27,871.34 782.71,873.88 784.16,876.35 785.61,878.76 787.05,881.11 788.50,883.40 789.94,885.62 791.39,887.78 792.84,889.88 794.28,891.92 795.73,893.90 797.18,895.83 798.62,897.69 800.07,899.50 801.52,901.26 802.96,902.96 804.41,904.61 805.86,906.20 807.30,907.75 808.75,909.24 810.20,910.68 811.64,912.08 813.09,913.43 814.53,914.73 815.98,915.99 817.43,917.20 818.87,918.37 820.32,919.50 821.77,920.59 823.21,921.64 824.66,922.65 826.11,923.62 827.55,924.56 829.00,925.46 830.45,926.32 831.89,927.15 833.34,927.95 834.79,928.72 836.23,929.46 837.68,930.16 839.13,930.84 840.57,931.49 842.02,932.12 843.46,932.71 844.91,933.29 846.36,933.83 847.80,934.36 849.25,934.86 850.70,935.34 852.14,935.80 853.59,936.24 855.04,936.65 856.48,937.05 857.93,937.43 859.38,937.80 860.82,938.14 862.27,938.48 863.72,938.79 865.16,939.09 866.61,939.38 868.06,939.65 869.50,939.91 870.95,940.15 872.39,940.39 873.84,940.61 875.29,940.82 876.73,941.02 878.18,941.21 879.63,941.39 881.07,941.57 882.52,941.73 883.97,941.88 885.41,942.03 886.86,942.17 888.31,942.30 889.75,942.42 891.20,942.54 892.65,942.65 894.09,942.76 895.54,942.85 896.98,942.95 898.43,943.04 899.88,943.12 901.32,943.20 902.77,943.27 904.22,943.34 905.66,943.41 907.11,943.47 908.56,943.53 910.00,943.59 911.45,943.64 912.90,943.69 914.34,943.73 915.79,943.78 917.24,943.82 918.68,943.86 920.13,943.89 921.58,943.92 923.02,943.96 924.47,943.99 925.91,944.01 927.36,944.04 928.81,944.06 930.25,944.09 931.70,944.11 933.15,944.13 934.59,944.15 936.04,944.16 937.49,944.18 938.93,944.20 940.38,944.21 941.83,944.22 943.27,944.24 944.72,944.25 946.17,944.26 947.61,944.27 949.06,944.28 950.51,944.29 951.95,944.30 953.40,944.30 954.84,944.31 956.29,944.32 957.74,944.32 959.18,944.33 960.63,944.33 962.08,944.34 963.52,944.34 964.97,944.35 966.42,944.35 967.86,944.36 969.31,944.36 970.76,944.36 972.20,944.37 973.65,944.37 975.10,944.37 976.54,944.37 977.99,944.37 979.44,944.38 980.88,944.38 982.33,944.38 983.77,944.38 985.22,944.38 986.67,944.38 988.11,944.39 989.56,944.39 991.01,944.39 992.45,944.39 993.90,944.39 993.9,960" fill="#808080" fill-opacity="0.5" shape-rendering="crispEdges"/>
<g><text transform="matrix(1.4988 0 0 1 192.32 1018.96)" font-size="54.63">−</text><text transform="matrix(1.0869 0 0 1 243.07 1016.80)" font-size="60.00" stroke="#fff" stroke-width="0.20" paint-order="fill stroke">100</text></g>
<g><text transform="matrix(1.4988 0 0 1 392.32 1018.96)" font-size="54.63">−</text><text transform="matrix(1.0939 0 0 1 441.97 1016.80)" font-size="60.00" stroke="#fff" stroke-width="0.20" paint-order="fill stroke">50</text></g>
<g><text transform="matrix(1.0622 0 0 1 617.67 1016.80)" font-size="60.00" stroke="#fff" stroke-width="0.20" paint-order="fill stroke">0</text></g>
<g><text transform="matrix(1.1050 0 0 1 783.73 1016.80)" font-size="60.00" stroke="#fff" stroke-width="0.20" paint-order="fill stroke">50</text></g>
<g><text transform="matrix(1.0869 0 0 1 952.07 1016.80)" font-size="60.00" stroke="#fff" stroke-width="0.20" paint-order="fill stroke">100</text></g>
<g><text transform="matrix(1.0869 0 0 1 1136.07 1016.80)" font-size="60.00" stroke="#fff" stroke-width="0.20" paint-order="fill stroke">150</text></g>
<g><text transform="matrix(1.0979 0 0 1 1319.10 1016.80)" font-size="60.00" stroke="#fff" stroke-width="0.20" paint-order="fill stroke">200</text></g>
<g><text transform="matrix(1.0873 0 0 1 1503.13 1016.80)" font-size="60.00" stroke="#fff" stroke-width="0.20" paint-order="fill stroke">250</text></g>
<g><text transform="matrix(1.0952 0 0 1 1686.24 1016.80)" font-size="60.00" stroke="#fff" stroke-width="0.20" paint-order="fill stroke">300</text></g>
<g><text transform="matrix(1.1454 0 0 1 150.71 139.96)" font-size="59.41" stroke="#fff" stroke-width="0.20" paint-order="fill stroke">2.5</text></g>
<g><text transform="matrix(1.1573 0 0 1 150.70 298.17)" font-size="58.97" stroke="#fff" stroke-width="0.20" paint-order="fill stroke">2.0</text></g>
<g><text transform="matrix(1.1350 0 0 1 151.15 456.36)" font-size="59.63" stroke="#fff" stroke-width="0.20" paint-order="fill stroke">1.5</text></g>
<g><text transform="matrix(1.1512 0 0 1 151.13 614.57)" font-size="58.97" stroke="#fff" stroke-width="0.20" paint-order="fill stroke">1.0</text></g>
<g><text transform="matrix(1.1496 0 0 1 151.01 772.77)" font-size="58.97" stroke="#fff" stroke-width="0.20" paint-order="fill stroke">0.5</text></g>
<g><text transform="matrix(1.1530 0 0 1 151.00 930.97)" font-size="58.97" stroke="#fff" stroke-width="0.20" paint-order="fill stroke">0.0</text></g>
<g><text transform="matrix(0.9856 0 0 1 268.88 88.45)" font-size="81.41" stroke="#fff" stroke-width="1.80" paint-order="fill stroke">×</text><text transform="matrix(1.0794 0 0 1 318.24 76.89)" font-size="60.74" stroke="#fff" stroke-width="0.20" paint-order="fill stroke">10</text><text transform="matrix(0.9557 0 0 1 383.53 62.72)" font-size="79.16" stroke="#fff" stroke-width="1.60" paint-order="fill stroke">+</text><text transform="matrix(1.2285 0 0 1 427.86 47.50)" font-size="43.33" stroke="#fff" stroke-width="0.20" paint-order="fill stroke">21</text></g>
<g><text transform="matrix(1.1028 0 0 1 845.52 1125.30)" font-size="81.89" stroke="#fff" stroke-width="0.20" paint-order="fill stroke">time</text> <text transform="matrix(0.8776 0 0 1 1037.35 1126.88)" font-size="94.52" stroke="#fff" stroke-width="2.40" paint-order="fill stroke">(</text><text transform="matrix(0.9838 0 0 1 1066.18 1125.30)" font-size="81.89" stroke="#fff" stroke-width="0.20" paint-order="fill stroke">fs</text><text transform="matrix(0.8672 0 0 1 1125.24 1126.87)" font-size="94.47" stroke="#fff" stroke-width="2.40" paint-order="fill stroke">)</text></g>
<g><text transform="matrix(0 -1.1040 1 0 96.30 962.53)" font-size="79.49" stroke="#fff" stroke-width="0.20" paint-order="fill stroke">energy</text> <text transform="matrix(0 -1.1053 1 0 96.30 694.29)" font-size="82.29" stroke="#fff" stroke-width="0.20" paint-order="fill stroke">transfer</text> <text transform="matrix(0 -0.8725 1 0 98.36 383.53)" font-size="94.63" stroke="#fff" stroke-width="2.40" paint-order="fill stroke">(</text><text transform="matrix(0 -1.0336 1 0 95.13 353.40)" font-size="84.95" stroke="#fff" stroke-width="0.20" paint-order="fill stroke">W</text><text transform="matrix(0 -0.4187 1 0.2188 115.86 264.93)" font-size="124.20">/</text><text transform="matrix(0 -1.0994 1 0 96.40 227.45)" font-size="79.79" stroke="#fff" stroke-width="0.20" paint-order="fill stroke">m</text><text transform="matrix(0 -1.1234 1 0 67.09 159.50)" font-size="61.04" stroke="#fff" stroke-width="0.20" paint-order="fill stroke">3</text><text transform="matrix(0 -0.8418 1 0 98.35 120.09)" font-size="94.58" stroke="#fff" stroke-width="2.40" paint-order="fill stroke">)</text></g>
<g><text transform="matrix(1.2964 0 0 1 1009.14 188.00)" font-size="57.00" letter-spacing="2.56" stroke="#000" stroke-width="1.60" stroke-linejoin="round">heating</text> <text transform="matrix(1.2785 0 0 1 1272.31 188.00)" font-size="57.00" letter-spacing="2.56" stroke="#000" stroke-width="1.60" stroke-linejoin="round">electrons:</text></g>
<g><text transform="matrix(1.2159 0 0 1 1173.24 269.53)" font-size="56.67" stroke="#fff" stroke-width="0.20" paint-order="fill stroke">source</text> <text transform="matrix(1.2869 0 0 1 1377.29 269.43)" font-size="56.54" stroke="#fff" stroke-width="0.20" paint-order="fill stroke">term</text> <text transform="matrix(1.1893 0 0 1 1535.81 269.10)" font-size="60.19" stroke="#fff" stroke-width="0.20" paint-order="fill stroke">T</text><text transform="matrix(1.1893 0 0 1 1584.11 269.10)" font-size="60.19" stroke="#fff" stroke-width="0.20" paint-order="fill stroke">T</text><text transform="matrix(1.0493 0 0 1 1630.98 269.10)" font-size="60.08" stroke="#fff" stroke-width="0.20" paint-order="fill stroke">M</text></g>
<g><text transform="matrix(1.1548 0 0 1 1172.22 349.95)" font-size="59.77" stroke="#fff" stroke-width="0.30" paint-order="fill stroke">Ξ</text><text transform="matrix(1.3282 0 0 1 1216.94 361.98)" font-size="41.71" stroke="#fff" stroke-width="0.20" paint-order="fill stroke">el</text><text transform="matrix(0.9627 0 0 1 1262.72 363.26)" font-size="49.69" stroke="#fff" stroke-width="0.20" paint-order="fill stroke">*</text><text transform="matrix(1.3261 0 0 1 1296.05 368.77)" font-size="50.73">−</text><text transform="matrix(1.3173 0 0 1 1339.05 361.98)" font-size="41.71" stroke="#fff" stroke-width="0.20" paint-order="fill stroke">el</text> <text transform="matrix(1.2084 0 0 1 1406.12 350.33)" font-size="56.67" stroke="#fff" stroke-width="0.20" paint-order="fill stroke">e</text><text transform="matrix(1.1893 0 0 1 1437.91 350.10)" font-size="60.19" stroke="#fff" stroke-width="0.20" paint-order="fill stroke">T</text><text transform="matrix(1.1893 0 0 1 1486.21 350.10)" font-size="60.19" stroke="#fff" stroke-width="0.20" paint-order="fill stroke">T</text><text transform="matrix(1.0453 0 0 1 1533.09 350.10)" font-size="60.08" stroke="#fff" stroke-width="0.20" paint-order="fill stroke">M</text></g>
<g><text transform="matrix(1.2964 0 0 1 1009.14 498.00)" font-size="57.00" letter-spacing="2.56" stroke="#000" stroke-width="1.60" stroke-linejoin="round">heating</text> <text transform="matrix(1.2755 0 0 1 1274.97 498.00)" font-size="57.00" letter-spacing="2.56" stroke="#000" stroke-width="1.60" stroke-linejoin="round">phonons:</text></g>
<g><text transform="matrix(1.0625 0 0 1 1174.83 579.05)" font-size="59.08" stroke="#000" stroke-width="0.90" stroke-linejoin="round">Π</text><text transform="matrix(1.2956 0 0 1 1222.79 588.18)" font-size="41.71" stroke="#fff" stroke-width="0.20" paint-order="fill stroke">el</text><text transform="matrix(1.2628 0 0 1 1266.46 596.46)" font-size="54.63">−</text><text transform="matrix(1.4032 0 0 1 1311.24 587.64)" font-size="40.77" stroke="#fff" stroke-width="0.20" paint-order="fill stroke">ph</text> <text transform="matrix(1.1893 0 0 1 1399.91 579.10)" font-size="60.19" stroke="#fff" stroke-width="0.20" paint-order="fill stroke">T</text><text transform="matrix(1.1893 0 0 1 1448.21 579.10)" font-size="60.19" stroke="#fff" stroke-width="0.20" paint-order="fill stroke">T</text><text transform="matrix(1.0293 0 0 1 1495.12 579.10)" font-size="60.08" stroke="#fff" stroke-width="0.20" paint-order="fill stroke">M</text></g>
<g><text transform="matrix(1.0625 0 0 1 1174.83 666.05)" font-size="59.08" stroke="#000" stroke-width="0.90" stroke-linejoin="round">Π</text><text transform="matrix(1.2956 0 0 1 1222.79 675.18)" font-size="41.71" stroke="#fff" stroke-width="0.20" paint-order="fill stroke">el</text><text transform="matrix(1.2628 0 0 1 1266.46 683.46)" font-size="54.63">−</text><text transform="matrix(1.4032 0 0 1 1311.24 674.64)" font-size="40.77" stroke="#fff" stroke-width="0.20" paint-order="fill stroke">ph</text> <text transform="matrix(1.2030 0 0 1 1397.26 666.34)" font-size="56.25" stroke="#fff" stroke-width="0.20" paint-order="fill stroke">e</text><text transform="matrix(1.1893 0 0 1 1428.81 666.10)" font-size="60.19" stroke="#fff" stroke-width="0.20" paint-order="fill stroke">T</text><text transform="matrix(1.1893 0 0 1 1477.11 666.10)" font-size="60.19" stroke="#fff" stroke-width="0.20" paint-order="fill stroke">T</text><text transform="matrix(1.0493 0 0 1 1523.98 666.10)" font-size="60.08" stroke="#fff" stroke-width="0.20" paint-order="fill stroke">M</text></g>
<g><text transform="matrix(1.1548 0 0 1 1172.22 752.95)" font-size="59.77" stroke="#fff" stroke-width="0.30" paint-order="fill stroke">Ξ</text><text transform="matrix(1.3373 0 0 1 1216.94 764.79)" font-size="41.43" stroke="#fff" stroke-width="0.20" paint-order="fill stroke">el</text><text transform="matrix(0.9627 0 0 1 1262.72 766.26)" font-size="49.69" stroke="#fff" stroke-width="0.20" paint-order="fill stroke">*</text><text transform="matrix(1.2769 0 0 1 1296.05 772.37)" font-size="52.68">−</text><text transform="matrix(1.4109 0 0 1 1339.94 764.28)" font-size="40.55" stroke="#fff" stroke-width="0.20" paint-order="fill stroke">ph</text> <text transform="matrix(1.1886 0 0 1 1426.49 753.34)" font-size="56.25" stroke="#fff" stroke-width="0.20" paint-order="fill stroke">e</text><text transform="matrix(1.1893 0 0 1 1458.81 753.10)" font-size="60.19" stroke="#fff" stroke-width="0.20" paint-order="fill stroke">T</text><text transform="matrix(1.1893 0 0 1 1507.11 753.10)" font-size="60.19" stroke="#fff" stroke-width="0.20" paint-order="fill stroke">T</text><text transform="matrix(1.0253 0 0 1 1554.02 753.10)" font-size="60.08" stroke="#fff" stroke-width="0.20" paint-order="fill stroke">M</text></g>
</svg>
</body>
</html>
